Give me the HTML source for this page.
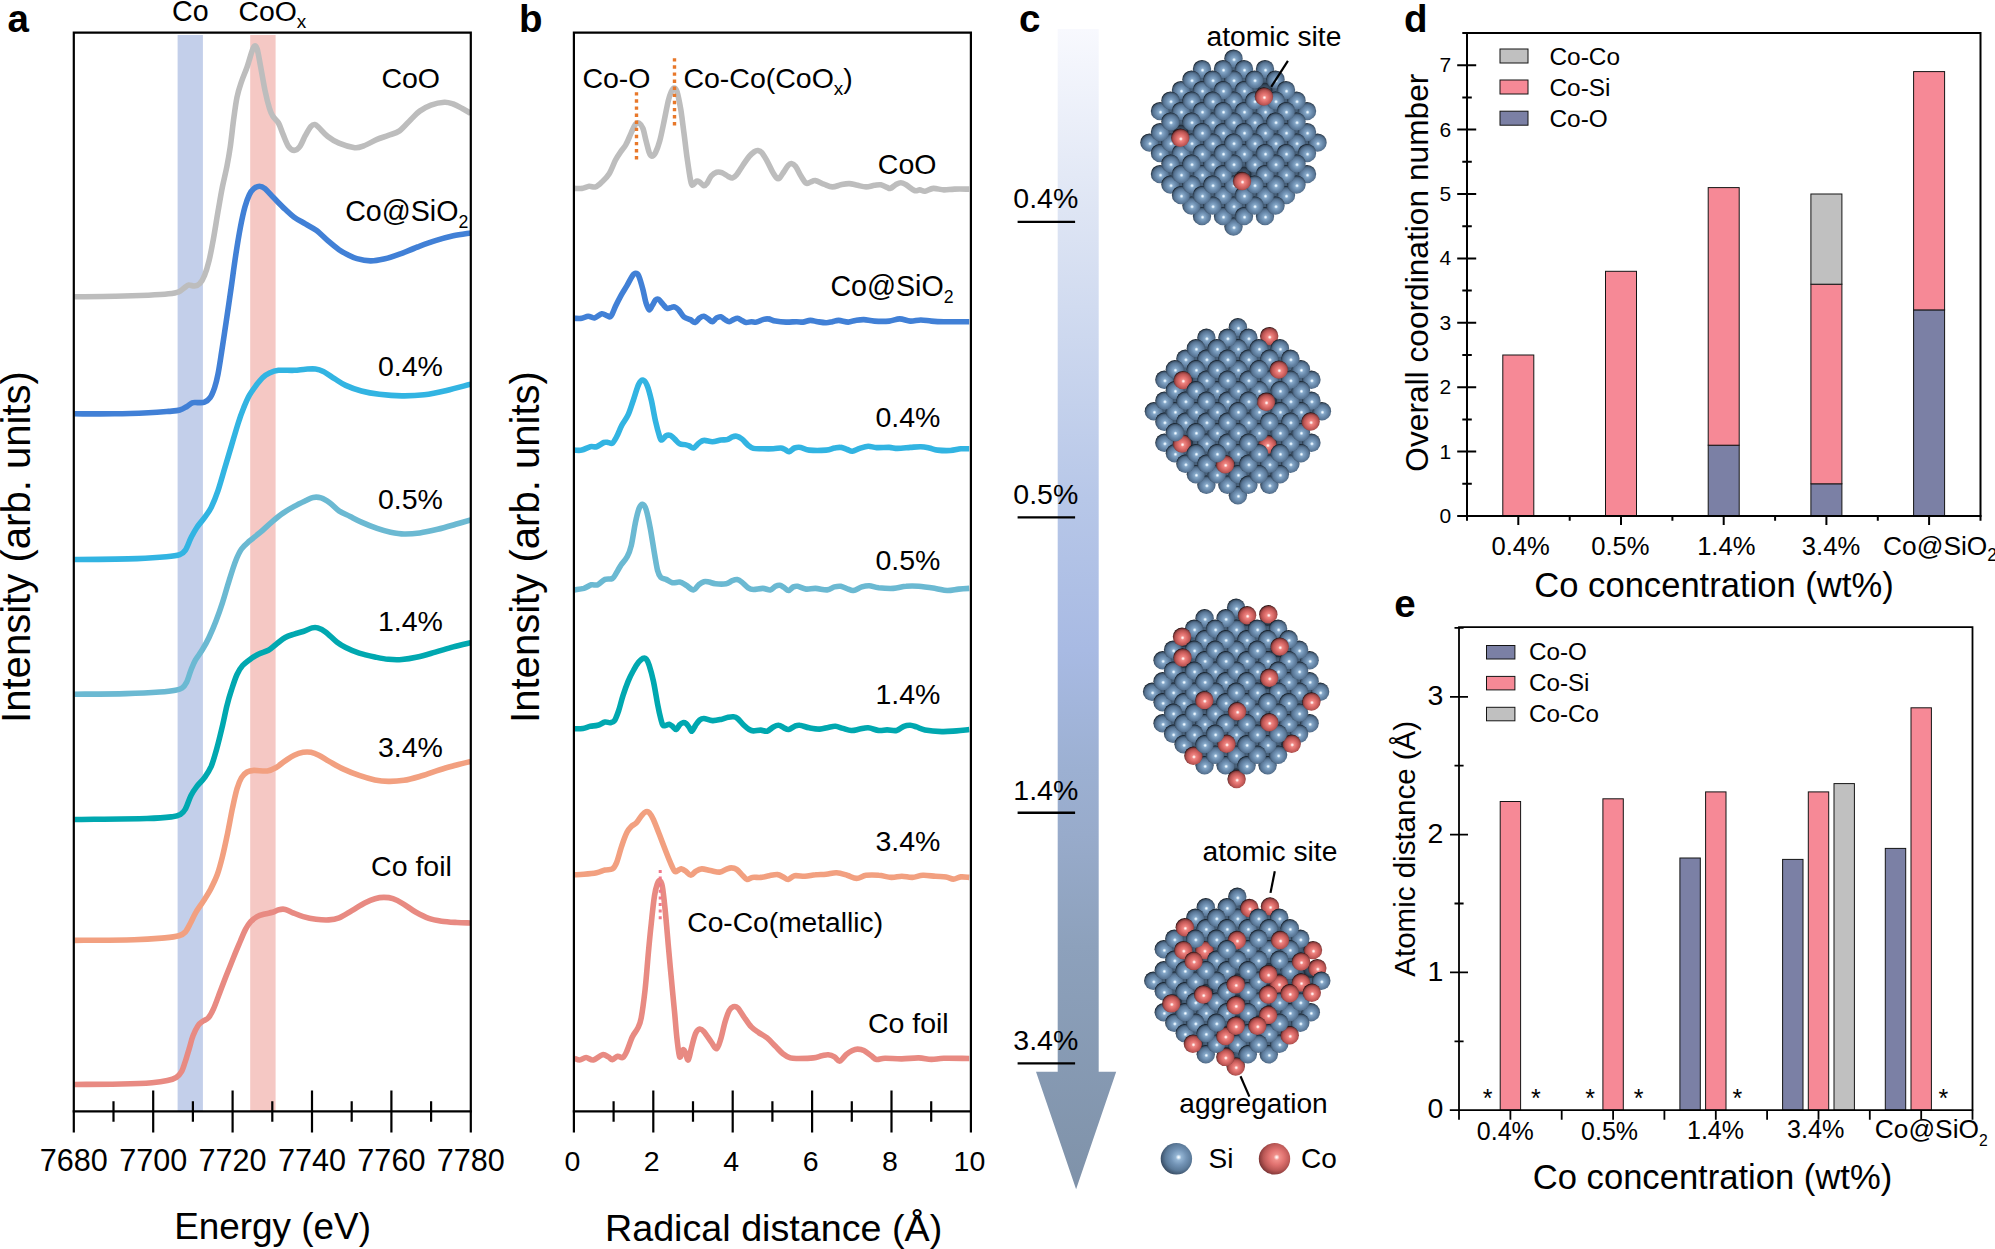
<!DOCTYPE html>
<html lang="en"><head><meta charset="utf-8"><title>Figure</title>
<style>html,body{margin:0;padding:0;background:#fff}svg{display:block}</style></head>
<body>
<svg width="1995" height="1249" viewBox="0 0 1995 1249" font-family="'Liberation Sans', Arial, Helvetica, sans-serif" fill="#000">
<rect width="1995" height="1249" fill="#fff"/>
<defs>
<radialGradient id="gs" cx="53%" cy="56%" r="55%" fx="53%" fy="56%">
<stop offset="0" stop-color="#ffffff"/><stop offset="0.08" stop-color="#d9ebf9"/><stop offset="0.2" stop-color="#86a8c8"/><stop offset="0.45" stop-color="#6d8eb0"/><stop offset="0.72" stop-color="#587594"/><stop offset="0.88" stop-color="#3f566e"/><stop offset="0.97" stop-color="#1c2835"/><stop offset="1" stop-color="#101820"/>
</radialGradient>
<radialGradient id="gr" cx="53%" cy="56%" r="55%" fx="53%" fy="56%">
<stop offset="0" stop-color="#ffffff"/><stop offset="0.08" stop-color="#fde0dd"/><stop offset="0.2" stop-color="#ee8783"/><stop offset="0.45" stop-color="#dc6b69"/><stop offset="0.72" stop-color="#b95452"/><stop offset="0.88" stop-color="#863a3a"/><stop offset="0.97" stop-color="#3a1818"/><stop offset="1" stop-color="#200c0c"/>
</radialGradient>
<radialGradient id="gd" cx="50%" cy="50%" r="55%">
<stop offset="0" stop-color="#4a637d"/><stop offset="0.6" stop-color="#34475b"/><stop offset="1" stop-color="#141c26"/>
</radialGradient>
<radialGradient id="gsL" cx="57%" cy="45%" r="62%" fx="57%" fy="45%">
<stop offset="0" stop-color="#ffffff"/><stop offset="0.05" stop-color="#e3f1fb"/><stop offset="0.15" stop-color="#93b4d3"/><stop offset="0.4" stop-color="#7394b6"/><stop offset="0.68" stop-color="#5b7a99"/><stop offset="0.88" stop-color="#40566f"/><stop offset="1" stop-color="#293a4d"/>
</radialGradient>
<radialGradient id="grL" cx="57%" cy="45%" r="62%" fx="57%" fy="45%">
<stop offset="0" stop-color="#ffffff"/><stop offset="0.05" stop-color="#fde4e1"/><stop offset="0.15" stop-color="#f08f8a"/><stop offset="0.4" stop-color="#e07270"/><stop offset="0.68" stop-color="#bb5856"/><stop offset="0.88" stop-color="#8a3c3c"/><stop offset="1" stop-color="#5c2426"/>
</radialGradient>
<linearGradient id="ga" x1="0" y1="29" x2="0" y2="1190" gradientUnits="userSpaceOnUse">
<stop offset="0" stop-color="#f8f9fe"/><stop offset="0.156" stop-color="#dee5f4"/><stop offset="0.405" stop-color="#b7c7e8"/><stop offset="0.535" stop-color="#a8bae3"/><stop offset="0.638" stop-color="#9cb0d2"/><stop offset="0.694" stop-color="#98abcb"/><stop offset="0.79" stop-color="#8da1bc"/><stop offset="1" stop-color="#7f92a9"/>
</linearGradient>
</defs>
<g id="panel-a">
<rect x="177.6" y="35" width="25.3" height="1076.4" fill="#c3cfea"/>
<rect x="250.2" y="35" width="25.4" height="1076.4" fill="#f5c8c4"/>
<clipPath id="ca"><rect x="73.8" y="32.7" width="397.0" height="1078.7"/></clipPath>
<g fill="none" stroke-width="5.6" stroke-linejoin="round" stroke-linecap="butt" clip-path="url(#ca)">
<path d="M74.5,296.8C81.2,296.7 102.5,296.6 114.8,296.3C127.1,296.0 139.5,295.6 148.5,295.2C157.5,294.8 163.6,294.4 168.6,293.8C173.6,293.2 176.1,292.8 178.7,291.8C181.3,290.8 182.6,288.9 184.3,287.8C186.0,286.7 187.1,285.4 188.8,285.1C190.5,284.8 192.5,286.3 194.4,286.0C196.3,285.7 198.3,285.1 200.0,283.3C201.7,281.6 203.0,279.2 204.5,275.5C206.0,271.8 207.5,267.1 209.0,260.9C210.5,254.7 212.0,246.7 213.5,238.5C215.0,230.3 216.5,220.2 218.0,211.6C219.5,203.0 220.9,194.4 222.4,186.9C223.9,179.4 225.6,173.2 226.9,166.5C228.2,159.8 229.2,154.4 230.3,146.6C231.4,138.8 232.5,127.9 233.6,119.7C234.7,111.5 235.7,103.6 237.0,97.2C238.3,90.8 239.8,86.6 241.5,81.6C243.2,76.6 245.4,71.9 247.1,67.0C248.8,62.1 250.4,55.9 251.6,52.4C252.8,48.9 253.4,46.6 254.3,46.1C255.2,45.6 256.2,45.8 257.2,49.1C258.2,52.4 259.2,59.0 260.5,65.9C261.8,72.8 263.5,83.4 265.0,90.5C266.5,97.6 268.2,104.2 269.5,108.5C270.8,112.8 271.4,113.9 272.9,116.3C274.4,118.7 276.8,120.0 278.5,123.0C280.2,126.0 281.3,130.3 283.0,134.2C284.7,138.1 286.7,143.9 288.6,146.6C290.5,149.3 292.3,150.4 294.2,150.4C296.1,150.4 297.9,149.1 299.8,146.6C301.7,144.1 303.5,138.8 305.4,135.4C307.3,132.0 309.4,128.2 311.0,126.4C312.6,124.6 313.5,124.4 314.8,124.6C316.1,124.8 316.6,125.5 318.8,127.5C321.0,129.5 324.4,133.9 327.8,136.5C331.2,139.1 334.5,141.3 339.0,143.2C343.5,145.1 350.6,147.2 354.7,147.7C358.8,148.1 360.0,147.3 363.7,145.9C367.4,144.5 373.0,141.2 377.1,139.4C381.2,137.7 384.6,136.8 388.3,135.4C392.0,134.0 395.8,133.5 399.5,130.9C403.2,128.3 407.3,123.0 410.7,119.7C414.1,116.4 416.3,113.5 419.7,111.1C423.1,108.7 426.8,106.6 430.9,105.1C435.0,103.6 440.7,102.4 444.4,102.2C448.1,102.0 450.3,103.0 453.3,104.0C456.3,105.0 459.4,106.9 462.3,108.5C465.2,110.1 469.4,112.6 470.8,113.4" stroke="#bdbdbd"/>
<path d="M74.5,413.8C81.2,413.8 102.5,414.0 114.8,413.8C127.1,413.6 139.5,413.1 148.5,412.7C157.5,412.3 163.4,411.8 168.6,411.4C173.8,410.9 176.8,410.8 179.8,410.0C182.8,409.2 184.5,407.9 186.6,406.7C188.7,405.5 190.3,403.5 192.2,402.8C194.1,402.1 195.8,402.7 197.8,402.6C199.9,402.5 202.4,403.0 204.5,402.2C206.6,401.4 208.4,400.1 210.1,397.7C211.8,395.3 213.3,391.5 214.6,387.6C215.9,383.7 216.9,379.7 218.0,374.1C219.1,368.5 220.2,361.1 221.3,354.0C222.4,346.9 223.6,339.0 224.7,331.6C225.8,324.2 226.9,317.1 228.0,309.5C229.1,301.9 230.1,295.2 231.4,286.0C232.7,276.8 234.4,264.0 235.9,254.2C237.4,244.4 238.9,235.2 240.4,227.3C241.9,219.5 243.4,212.5 244.9,207.1C246.4,201.7 247.8,197.9 249.3,194.8C250.8,191.7 252.1,190.1 253.8,188.7C255.5,187.3 257.5,186.2 259.4,186.2C261.3,186.2 262.6,186.7 265.0,188.7C267.4,190.7 270.6,194.7 274.0,198.1C277.4,201.5 281.8,206.1 285.2,209.3C288.6,212.5 290.8,214.8 294.2,217.2C297.6,219.6 301.7,221.7 305.4,223.9C309.1,226.1 312.9,227.8 316.6,230.6C320.3,233.4 324.1,237.5 327.8,240.7C331.5,243.9 335.8,247.4 339.0,249.7C342.2,251.9 343.8,252.7 346.8,254.2C349.8,255.7 353.0,257.5 356.9,258.6C360.8,259.7 365.9,260.8 370.4,260.9C374.9,261.0 378.9,260.2 383.8,259.1C388.7,258.0 393.9,256.2 399.5,254.2C405.1,252.2 411.5,249.2 417.5,247.0C423.5,244.8 429.4,242.6 435.4,240.7C441.4,238.8 447.4,237.1 453.3,235.8C459.2,234.5 467.9,233.4 470.8,232.9" stroke="#4180d6"/>
<path d="M74.5,559.5C85.0,559.4 121.9,559.1 137.2,558.6C152.5,558.1 159.3,557.5 166.4,556.8C173.5,556.1 176.6,555.7 179.8,554.6C183.0,553.5 183.5,552.9 185.4,550.1C187.3,547.3 189.1,541.5 191.0,537.8C192.9,534.1 194.4,531.1 196.7,527.7C198.9,524.3 202.1,521.0 204.5,517.6C206.9,514.2 208.9,512.0 211.2,507.5C213.4,503.0 215.8,497.2 218.0,490.7C220.2,484.2 222.5,475.8 224.7,468.3C226.9,460.8 229.2,453.4 231.4,445.9C233.6,438.4 236.1,429.9 238.1,423.5C240.1,417.1 241.8,412.5 243.7,407.8C245.6,403.1 247.2,399.1 249.3,395.4C251.4,391.7 253.9,388.4 256.1,385.4C258.4,382.4 260.6,379.6 262.8,377.5C265.0,375.4 266.9,374.2 269.5,373.0C272.1,371.8 274.4,370.8 278.5,370.3C282.6,369.9 289.7,370.5 294.2,370.3C298.7,370.1 301.8,369.4 305.4,369.2C308.9,369.0 312.5,368.6 315.5,369.0C318.5,369.4 320.1,369.9 323.3,371.5C326.5,373.1 330.8,376.3 334.5,378.6C338.2,380.9 341.2,383.3 345.7,385.4C350.2,387.5 355.8,389.5 361.4,391.0C367.0,392.5 372.6,393.5 379.3,394.3C386.0,395.1 394.3,395.8 401.8,395.9C409.3,396.0 416.7,395.7 424.2,394.8C431.7,393.9 438.8,392.3 446.6,390.5C454.4,388.7 466.8,385.2 470.8,384.2" stroke="#32b4e2"/>
<path d="M74.5,694.2C83.1,694.1 111.8,694.0 126.0,693.6C140.2,693.2 151.5,692.6 159.7,692.0C167.9,691.4 171.7,690.9 175.4,690.2C179.1,689.5 180.2,689.3 182.1,688.0C184.0,686.7 185.1,685.3 186.6,682.3C188.1,679.3 189.5,673.7 191.0,670.0C192.5,666.3 193.6,663.3 195.5,659.9C197.4,656.5 200.1,653.5 202.3,649.8C204.6,646.1 206.8,642.2 209.0,637.5C211.2,632.8 213.5,627.6 215.7,621.8C217.9,616.0 220.2,609.7 222.4,602.8C224.7,595.9 226.9,587.4 229.2,580.3C231.4,573.2 233.8,565.4 235.9,560.2C238.0,555.0 239.3,552.2 241.5,549.0C243.7,545.8 246.1,544.0 249.3,541.2C252.5,538.4 256.8,535.4 260.5,532.2C264.2,529.0 267.9,525.3 271.7,522.1C275.4,518.9 279.2,515.7 283.0,513.1C286.8,510.5 290.5,508.4 294.2,506.4C297.9,504.3 302.2,502.3 305.4,500.8C308.6,499.3 310.6,497.9 313.2,497.4C315.8,496.9 318.3,497.0 321.1,497.9C323.9,498.8 327.0,500.8 330.0,503.0C333.0,505.2 335.6,508.6 339.0,510.9C342.4,513.1 346.5,514.6 350.2,516.5C353.9,518.4 356.9,520.1 361.4,522.1C365.9,524.1 372.2,526.7 377.1,528.4C382.0,530.1 386.1,531.3 390.6,532.2C395.1,533.1 399.1,533.9 404.0,534.0C408.9,534.1 414.1,533.7 419.7,532.9C425.3,532.1 431.6,530.7 437.6,529.3C443.6,527.9 450.1,525.9 455.6,524.3C461.1,522.7 468.3,520.6 470.8,519.9" stroke="#6bb9d2"/>
<path d="M74.5,819.5C86.6,819.3 130.6,819.0 146.9,818.5C163.2,818.0 166.9,817.4 172.5,816.7C178.1,816.0 178.3,815.6 180.5,814.3C182.7,813.0 183.7,812.1 185.4,809.0C187.2,805.9 189.1,799.2 191.0,795.5C192.9,791.8 194.4,789.6 196.7,786.6C198.9,783.6 202.1,781.0 204.5,777.6C206.9,774.2 209.1,771.2 211.2,766.4C213.2,761.5 214.9,755.2 216.8,748.5C218.7,741.8 220.7,733.2 222.4,726.1C224.1,719.0 225.4,711.9 226.9,705.9C228.4,699.9 229.7,695.4 231.4,690.2C233.1,685.0 235.1,678.6 237.0,674.5C238.9,670.4 240.5,667.9 242.6,665.5C244.7,663.1 246.7,661.8 249.3,659.9C251.9,658.0 255.1,655.9 258.3,654.3C261.5,652.7 265.4,652.0 268.4,650.3C271.4,648.6 273.4,646.3 276.2,644.2C279.0,642.1 282.2,639.2 285.2,637.5C288.2,635.8 291.2,635.1 294.2,634.1C297.2,633.1 300.1,632.5 303.1,631.5C306.1,630.5 309.7,628.5 312.1,627.9C314.5,627.3 315.5,627.2 317.7,627.9C319.9,628.6 322.3,629.5 325.5,631.9C328.7,634.2 333.4,639.4 336.8,642.0C340.2,644.6 342.0,645.7 345.7,647.6C349.4,649.5 354.3,651.6 359.2,653.2C364.1,654.8 370.0,656.0 374.9,657.0C379.8,658.0 383.8,658.9 388.3,659.3C392.8,659.7 396.9,659.9 401.8,659.5C406.7,659.1 411.9,658.2 417.5,657.0C423.1,655.8 429.4,653.8 435.4,652.1C441.4,650.4 447.4,648.5 453.3,646.9C459.2,645.3 467.9,643.4 470.8,642.7" stroke="#00a8b0"/>
<path d="M74.5,940.4C84.4,940.3 119.0,940.1 134.1,939.7C149.2,939.3 157.3,938.5 164.8,937.9C172.3,937.2 175.5,936.8 178.9,935.8C182.3,934.8 183.4,934.1 185.3,932.0C187.2,929.9 188.8,926.2 190.5,923.0C192.2,919.8 193.5,916.4 195.6,912.8C197.7,909.2 200.7,905.3 203.3,901.2C205.9,897.1 208.7,892.9 211.0,888.4C213.3,883.9 215.5,879.6 217.4,874.3C219.3,869.0 220.8,863.2 222.5,856.4C224.2,849.6 225.9,841.4 227.6,833.3C229.3,825.2 230.9,815.4 232.5,808.0C234.1,800.6 235.5,793.9 237.0,788.8C238.5,783.7 239.8,780.4 241.5,777.6C243.2,774.8 245.0,773.2 247.1,772.0C249.2,770.8 250.4,770.6 253.8,770.4C257.2,770.2 263.6,771.4 267.3,770.9C271.0,770.4 273.2,769.2 276.2,767.5C279.2,765.8 282.2,762.8 285.2,760.8C288.2,758.8 291.2,756.6 294.2,755.2C297.2,753.8 300.3,752.8 303.1,752.3C305.9,751.8 308.4,751.8 311.0,752.3C313.6,752.8 315.6,753.6 318.8,755.2C322.0,756.8 325.9,759.6 330.0,761.9C334.1,764.2 338.6,766.9 343.5,769.1C348.4,771.4 354.0,773.6 359.2,775.4C364.4,777.2 370.0,778.9 374.9,779.9C379.8,780.9 383.4,781.3 388.3,781.4C393.2,781.5 398.4,781.2 404.0,780.3C409.6,779.4 415.9,777.5 421.9,775.8C427.9,774.0 434.3,771.5 439.9,769.8C445.5,768.0 450.5,766.7 455.6,765.3C460.8,763.9 468.3,762.1 470.8,761.5" stroke="#f2a080"/>
<path d="M74.5,1084.5C82.3,1084.4 108.4,1084.3 121.3,1084.0C134.2,1083.7 144.3,1083.3 152.0,1082.7C159.7,1082.1 163.3,1081.5 167.4,1080.6C171.5,1079.7 174.1,1078.8 176.4,1077.3C178.8,1075.8 180.0,1074.3 181.5,1071.7C183.0,1069.1 184.0,1065.2 185.3,1061.4C186.6,1057.6 187.9,1052.9 189.2,1048.6C190.5,1044.3 191.5,1039.6 193.0,1035.8C194.5,1032.0 196.4,1028.0 198.1,1025.5C199.8,1023.0 201.6,1022.2 203.3,1020.9C205.0,1019.6 206.7,1019.8 208.4,1017.8C210.1,1015.8 211.6,1013.2 213.5,1008.9C215.4,1004.6 217.8,997.8 219.9,992.2C222.0,986.7 224.0,981.6 226.3,975.6C228.7,969.6 231.7,962.1 234.0,956.3C236.3,950.5 238.5,945.5 240.4,941.0C242.3,936.5 243.8,932.6 245.5,929.4C247.2,926.2 248.8,923.8 250.7,921.7C252.6,919.6 254.8,917.9 257.1,916.6C259.5,915.3 262.2,914.7 264.8,914.0C267.4,913.3 270.1,913.0 272.5,912.3C274.9,911.6 276.8,910.2 278.9,909.7C281.0,909.2 282.9,908.9 285.3,909.4C287.7,909.9 290.0,911.6 293.0,912.8C296.0,914.0 299.4,915.5 303.2,916.6C307.0,917.7 311.7,918.7 316.0,919.2C320.3,919.8 324.9,920.1 328.8,919.9C332.7,919.7 335.2,919.4 339.1,917.9C343.0,916.4 347.6,913.2 351.9,910.7C356.2,908.2 360.8,905.0 364.7,903.0C368.6,901.0 371.8,899.6 375.0,898.7C378.2,897.8 380.9,897.4 383.9,897.4C386.9,897.4 389.7,897.6 392.9,898.7C396.1,899.8 399.3,901.5 403.2,903.8C407.1,906.1 411.7,909.9 416.0,912.3C420.3,914.7 424.5,916.9 428.8,918.4C433.1,919.9 436.9,920.5 441.6,921.2C446.3,921.9 452.2,922.2 457.0,922.5C461.8,922.8 468.3,922.9 470.6,923.0" stroke="#e88a82"/>
</g>
<g fill="none" stroke="#000" stroke-width="2.2">
<path d="M73.8,1132.6 V32.7 H470.8 V1132.6" />
<path d="M72.7,1111.4 H471.9"/>
<path d="M153.2,1090.4V1132.6M232.6,1090.4V1132.6M312.0,1090.4V1132.6M391.4,1090.4V1132.6M113.5,1101.3V1121.7M192.9,1101.3V1121.7M272.3,1101.3V1121.7M351.7,1101.3V1121.7M431.1,1101.3V1121.7"/>
</g>
<text x="73.8" y="1171.0" font-size="30.6" text-anchor="middle">7680</text>
<text x="153.2" y="1171.0" font-size="30.6" text-anchor="middle">7700</text>
<text x="232.6" y="1171.0" font-size="30.6" text-anchor="middle">7720</text>
<text x="312.0" y="1171.0" font-size="30.6" text-anchor="middle">7740</text>
<text x="391.4" y="1171.0" font-size="30.6" text-anchor="middle">7760</text>
<text x="470.8" y="1171.0" font-size="30.6" text-anchor="middle">7780</text>
<text x="272.6" y="1239.3" font-size="36.9" text-anchor="middle">Energy (eV)</text>
<text transform="translate(30.4,547) rotate(-90)" font-size="40.1" text-anchor="middle">Intensity (arb. units)</text>
<text x="7.5" y="32.4" font-size="38.5" text-anchor="start" font-weight="bold">a</text>
<text x="172.0" y="21.2" font-size="28.6" text-anchor="start">Co</text>
<text x="238.4" y="21.2" font-size="28.4">CoO<tspan font-size="19" dy="6.8">x</tspan></text>
<text x="381.4" y="88.3" font-size="28.5" text-anchor="start">CoO</text>
<text x="345.2" y="220.5" font-size="28.6">Co@SiO<tspan font-size="17.7" dy="7">2</tspan></text>
<text x="377.9" y="375.9" font-size="28.5" text-anchor="start">0.4%</text>
<text x="377.9" y="508.6" font-size="28.5" text-anchor="start">0.5%</text>
<text x="377.9" y="630.8" font-size="28.5" text-anchor="start">1.4%</text>
<text x="377.9" y="757.4" font-size="28.5" text-anchor="start">3.4%</text>
<text x="371.1" y="875.6" font-size="28.5" text-anchor="start">Co foil</text>
</g>
<g id="panel-b">
<clipPath id="cb"><rect x="573.9" y="32.7" width="397.0" height="1078.7"/></clipPath>
<g fill="none" stroke-width="5.6" stroke-linejoin="round" stroke-linecap="butt" clip-path="url(#cb)">
<path d="M574.5,188.4C575.7,188.4 579.3,188.8 581.8,188.4C584.2,188.1 586.9,186.6 589.2,186.3C591.5,186.1 593.4,187.6 595.5,186.9C597.6,186.2 599.5,184.3 601.8,182.1C604.1,179.9 606.9,177.4 609.2,173.7C611.5,170.0 613.6,163.7 615.5,160.0C617.4,156.3 619.0,154.2 620.8,151.6C622.6,149.0 624.4,147.4 626.1,144.2C627.9,141.0 629.7,135.9 631.3,132.6C632.9,129.3 634.2,125.8 635.5,124.2C636.8,122.6 637.9,122.5 639.1,123.2C640.3,123.9 641.7,125.4 642.9,128.4C644.1,131.4 645.0,137.1 646.1,141.1C647.2,145.1 648.3,150.1 649.2,152.6C650.1,155.1 650.7,156.2 651.7,156.2C652.8,156.2 654.2,155.1 655.5,152.6C656.8,150.1 658.3,146.2 659.7,141.1C661.1,136.0 662.5,128.8 663.9,122.1C665.3,115.4 667.0,106.2 668.2,101.1C669.4,96.0 670.3,93.8 671.3,91.6C672.3,89.4 673.1,88.0 674.1,88.0C675.1,88.0 675.9,88.0 677.0,91.6C678.1,95.2 679.6,102.7 680.8,109.5C681.9,116.3 682.8,124.5 683.9,132.6C685.0,140.7 686.0,150.2 687.1,157.9C688.2,165.6 689.4,174.3 690.3,178.9C691.2,183.5 691.3,184.9 692.4,185.3C693.5,185.7 695.4,181.6 696.6,181.1C697.8,180.6 698.5,181.3 699.7,182.1C700.9,182.9 702.7,185.5 703.9,185.7C705.1,185.9 705.9,184.8 707.1,183.2C708.3,181.5 709.7,177.6 711.3,175.8C712.9,174.0 714.9,172.7 716.6,172.2C718.4,171.7 719.9,171.9 721.8,172.6C723.7,173.3 726.4,175.5 728.2,176.4C730.0,177.3 731.0,178.2 732.4,177.9C733.8,177.6 734.9,176.8 736.6,174.7C738.4,172.6 740.8,168.4 742.9,165.3C745.0,162.2 747.3,158.7 749.2,156.4C751.1,154.1 753.1,152.6 754.5,151.6C755.9,150.6 756.4,150.3 757.6,150.5C758.8,150.7 760.2,150.8 761.8,152.6C763.4,154.4 765.3,157.9 767.1,161.1C768.9,164.3 770.8,168.8 772.4,171.6C774.0,174.4 775.4,176.8 776.6,177.9C777.8,179.0 778.5,179.0 779.7,177.9C780.9,176.8 782.5,173.7 783.9,171.6C785.3,169.5 787.0,166.6 788.2,165.3C789.4,164.0 790.1,163.4 791.3,163.6C792.5,163.8 793.9,164.3 795.5,166.3C797.1,168.3 799.0,173.0 800.8,175.8C802.6,178.6 804.5,182.1 806.1,183.2C807.7,184.2 808.7,182.5 810.3,182.1C811.9,181.7 813.2,180.2 815.5,180.6C817.8,180.9 821.1,183.1 823.9,184.2C826.7,185.2 829.6,186.8 832.4,186.9C835.2,187.0 838.0,185.4 840.8,184.8C843.6,184.2 846.4,183.5 849.2,183.6C852.0,183.7 854.8,184.8 857.6,185.3C860.4,185.9 863.3,186.9 866.1,186.9C868.9,186.9 872.0,185.7 874.5,185.3C877.0,185.0 878.7,184.5 880.8,184.8C882.9,185.2 885.5,186.8 887.1,187.4C888.7,188.0 888.9,188.8 890.3,188.4C891.7,188.0 893.8,185.8 895.5,184.8C897.2,183.9 899.0,182.7 900.8,182.7C902.6,182.7 903.8,183.5 906.1,184.8C908.4,186.1 912.2,189.7 914.5,190.5C916.8,191.3 918.0,189.8 919.7,189.9C921.5,190.0 922.7,191.4 925.0,191.2C927.3,190.9 930.2,188.6 933.4,188.4C936.5,188.2 940.4,189.8 943.9,189.9C947.4,190.0 950.3,189.2 954.5,189.1C958.7,189.0 966.8,189.1 969.2,189.1" stroke="#bdbdbd"/>
<path d="M574.5,318.3C575.7,318.3 579.5,318.7 581.8,318.3C584.1,317.9 586.1,316.3 588.2,316.2C590.3,316.1 592.2,318.3 594.5,317.9C596.8,317.5 599.7,314.0 601.8,313.7C603.9,313.4 605.6,315.4 607.1,315.8C608.6,316.2 609.5,317.8 610.9,316.2C612.3,314.6 613.9,309.7 615.5,306.3C617.1,302.9 618.9,299.3 620.8,295.8C622.7,292.3 625.2,288.6 627.1,285.3C629.0,282.0 631.0,277.8 632.4,275.8C633.8,273.8 634.5,273.3 635.5,273.3C636.5,273.3 637.5,273.1 638.7,275.8C639.9,278.5 641.7,284.9 642.9,289.5C644.1,294.1 645.0,299.8 646.1,303.2C647.2,306.6 648.2,309.5 649.2,309.9C650.2,310.2 651.4,306.9 652.4,305.3C653.4,303.7 654.5,301.0 655.5,300.0C656.5,299.0 657.5,298.7 658.7,299.4C659.9,300.1 661.5,302.7 662.9,304.2C664.3,305.7 665.7,307.9 667.1,308.4C668.5,308.9 670.1,307.6 671.3,307.4C672.5,307.1 673.3,306.5 674.5,306.9C675.7,307.3 677.1,308.2 678.7,309.9C680.3,311.5 682.0,315.2 683.9,316.8C685.8,318.4 688.4,318.7 690.3,319.6C692.2,320.6 693.5,322.8 695.1,322.5C696.7,322.2 698.2,318.9 699.7,317.9C701.2,316.8 702.5,316.0 703.9,316.2C705.3,316.4 706.8,318.0 708.2,318.9C709.6,319.8 711.0,321.9 712.4,321.7C713.8,321.5 715.2,318.7 716.6,317.9C718.0,317.1 719.4,316.5 720.8,316.8C722.2,317.1 723.6,318.8 725.0,319.6C726.4,320.4 727.8,321.7 729.2,321.7C730.6,321.7 732.0,320.2 733.4,319.6C734.8,319.0 736.2,318.2 737.6,318.3C739.0,318.4 740.4,319.7 741.8,320.4C743.2,321.1 744.5,322.3 746.1,322.5C747.7,322.7 749.5,321.8 751.3,321.7C753.0,321.6 754.7,322.5 756.6,322.1C758.5,321.8 761.0,320.1 762.9,319.6C764.8,319.1 766.1,318.6 768.2,318.9C770.3,319.1 772.5,320.6 775.5,321.1C778.5,321.6 782.6,322.0 786.1,322.1C789.6,322.2 793.8,321.7 796.6,321.7C799.4,321.7 800.6,322.3 802.9,322.1C805.2,321.9 807.8,320.5 810.3,320.4C812.8,320.3 815.0,321.3 817.6,321.7C820.2,322.1 823.6,322.7 826.1,322.7C828.6,322.7 830.3,322.1 832.4,321.7C834.5,321.3 836.1,320.3 838.7,320.4C841.3,320.5 845.4,322.1 848.2,322.1C851.0,322.1 852.9,320.8 855.5,320.4C858.1,320.0 860.7,319.5 863.9,319.6C867.1,319.7 870.3,320.9 874.5,321.1C878.7,321.4 885.0,321.5 889.2,321.1C893.4,320.7 896.2,318.9 899.7,318.9C903.2,318.9 906.8,320.9 910.3,321.1C913.8,321.3 917.3,320.0 920.8,320.0C924.3,320.0 927.4,320.8 931.3,321.1C935.1,321.4 937.6,321.6 943.9,321.7C950.2,321.8 965.0,321.7 969.2,321.7" stroke="#4180d6"/>
<path d="M574.5,450.1C575.7,450.1 579.2,450.7 581.8,450.1C584.4,449.5 587.8,447.3 590.3,446.7C592.8,446.1 594.3,447.4 596.6,446.7C598.9,446.0 602.0,443.2 603.9,442.5C605.8,441.8 606.8,442.4 608.2,442.5C609.6,442.6 611.0,444.1 612.4,443.2C613.8,442.2 615.0,439.8 616.6,436.8C618.2,433.8 619.9,429.0 621.8,425.3C623.7,421.6 626.3,418.9 628.2,414.7C630.1,410.5 631.6,405.1 633.4,400.0C635.1,394.9 637.1,387.5 638.7,384.2C640.3,380.9 641.5,379.8 642.9,380.0C644.3,380.2 645.7,382.0 647.1,385.3C648.5,388.6 649.9,394.0 651.3,400.0C652.7,406.0 654.1,415.0 655.5,421.1C656.9,427.2 658.7,433.7 659.7,436.8C660.8,439.9 660.7,440.2 661.8,440.0C662.9,439.8 664.7,436.6 666.1,435.8C667.5,435.0 668.9,434.9 670.3,435.4C671.7,435.9 672.9,437.5 674.5,438.9C676.1,440.3 678.0,442.9 679.7,443.8C681.5,444.8 683.4,444.2 685.0,444.6C686.6,445.0 687.8,445.3 689.2,445.9C690.6,446.5 691.8,448.4 693.4,448.0C695.0,447.6 697.0,444.5 698.7,443.2C700.5,441.9 701.6,440.6 703.9,440.4C706.2,440.1 709.6,441.8 712.4,441.7C715.2,441.6 718.3,440.4 720.8,440.0C723.2,439.6 725.2,440.1 727.1,439.6C729.0,439.1 730.8,437.4 732.4,436.8C734.0,436.2 735.0,435.9 736.6,436.2C738.2,436.5 739.9,437.4 741.8,438.9C743.7,440.4 746.3,443.7 748.2,445.3C750.1,446.9 751.0,447.8 753.4,448.4C755.8,449.0 759.6,448.7 762.9,448.8C766.2,448.9 770.4,448.9 773.4,448.8C776.4,448.7 778.9,447.9 780.8,448.0C782.7,448.1 783.6,448.9 785.0,449.5C786.4,450.1 787.6,451.9 789.2,451.6C790.8,451.4 792.6,448.7 794.5,448.0C796.4,447.3 798.3,447.0 800.8,447.4C803.2,447.8 805.0,449.7 809.2,450.1C813.4,450.6 821.9,450.5 826.1,450.1C830.3,449.8 832.0,448.4 834.5,448.0C837.0,447.6 838.7,447.1 840.8,447.4C842.9,447.6 845.2,448.9 847.1,449.5C849.0,450.1 850.3,451.4 852.4,451.2C854.5,451.0 857.1,449.2 859.7,448.4C862.3,447.6 865.4,446.4 868.2,446.3C871.0,446.2 873.1,447.4 876.6,447.6C880.1,447.8 885.7,447.3 889.2,447.4C892.7,447.5 894.1,448.4 897.6,448.4C901.1,448.4 906.4,447.7 910.3,447.4C914.2,447.1 917.6,446.6 920.8,446.7C923.9,446.8 926.4,447.4 929.2,448.0C932.0,448.6 934.1,449.7 937.6,450.1C941.1,450.5 946.4,450.7 950.3,450.5C954.2,450.3 957.6,449.1 960.8,448.8C963.9,448.5 967.8,448.8 969.2,448.8" stroke="#32b4e2"/>
<path d="M574.5,589.9C576.1,589.6 581.1,589.2 583.9,588.4C586.7,587.5 589.0,585.4 591.3,584.8C593.6,584.2 595.3,585.7 597.6,584.8C599.9,583.9 602.5,580.4 605.0,579.4C607.5,578.4 610.5,579.6 612.4,578.5C614.3,577.4 615.2,574.8 616.6,572.6C618.0,570.4 619.0,567.9 620.8,565.3C622.5,562.7 625.4,560.1 627.1,556.8C628.9,553.5 629.9,551.1 631.3,545.3C632.7,539.5 634.2,528.2 635.5,522.1C636.8,516.0 637.9,511.4 639.1,508.4C640.3,505.4 641.3,504.0 642.5,504.2C643.7,504.4 644.8,505.5 646.1,509.5C647.4,513.5 648.9,521.0 650.3,528.4C651.7,535.8 653.3,546.7 654.5,553.7C655.7,560.7 656.6,566.6 657.6,570.5C658.6,574.4 659.4,575.8 660.8,577.3C662.2,578.8 664.2,578.5 666.1,579.4C668.0,580.3 670.1,582.2 672.4,582.7C674.7,583.2 677.4,581.7 679.7,582.1C682.0,582.5 683.8,584.0 686.1,585.3C688.4,586.6 691.3,590.0 693.4,589.9C695.5,589.8 697.0,586.2 698.7,584.8C700.5,583.4 702.1,582.2 703.9,581.7C705.6,581.2 707.3,581.8 709.2,582.1C711.1,582.5 712.7,583.5 715.5,583.8C718.3,584.1 723.3,584.3 726.1,583.8C728.9,583.3 730.5,581.3 732.4,580.6C734.2,579.9 735.6,579.4 737.2,579.6C738.8,579.9 740.0,580.7 741.8,582.1C743.6,583.5 746.3,586.6 748.2,587.8C750.1,589.0 751.0,589.4 753.4,589.5C755.8,589.6 760.1,588.3 762.9,588.4C765.7,588.5 768.2,590.2 770.3,589.9C772.4,589.5 773.9,587.1 775.5,586.3C777.1,585.5 778.3,585.1 779.7,585.3C781.1,585.5 782.4,586.5 783.9,587.4C785.4,588.3 787.0,590.6 788.6,590.5C790.2,590.4 791.9,587.6 793.4,586.9C794.9,586.2 795.5,585.9 797.6,586.3C799.7,586.7 803.1,588.8 806.1,589.1C809.1,589.5 812.0,588.3 815.5,588.4C819.0,588.5 823.9,590.1 827.1,589.9C830.3,589.6 832.2,587.5 834.5,586.9C836.8,586.3 838.5,585.9 840.8,586.3C843.1,586.7 846.1,588.4 848.2,589.1C850.3,589.8 851.1,590.9 853.4,590.5C855.7,590.1 859.2,587.7 861.8,586.9C864.4,586.1 866.4,585.6 869.2,585.7C872.0,585.9 874.7,587.3 878.7,587.8C882.7,588.2 888.8,588.6 893.4,588.4C898.0,588.1 901.9,586.6 906.1,586.3C910.3,585.9 913.8,585.9 918.7,586.3C923.6,586.6 930.8,587.7 935.5,588.4C940.2,589.1 943.2,590.4 947.1,590.5C951.0,590.6 955.0,589.5 958.7,589.1C962.4,588.8 967.5,588.5 969.2,588.4" stroke="#6bb9d2"/>
<path d="M574.5,728.8C575.9,728.7 580.3,728.8 582.9,728.4C585.5,728.0 587.8,726.8 590.3,726.3C592.8,725.8 595.1,726.0 597.6,725.3C600.1,724.6 602.9,722.5 605.0,722.1C607.1,721.7 608.7,723.0 610.3,722.7C611.9,722.5 613.1,722.6 614.5,720.6C615.9,718.6 617.3,714.6 618.7,710.5C620.1,706.4 621.3,700.7 622.9,695.8C624.5,690.9 626.5,685.3 628.2,681.1C630.0,676.9 631.6,673.7 633.4,670.5C635.1,667.3 637.1,664.1 638.7,662.1C640.3,660.1 641.7,658.8 642.9,658.3C644.1,657.8 645.0,657.7 646.1,658.9C647.2,660.1 648.0,661.6 649.2,665.3C650.4,669.0 652.0,674.6 653.4,681.1C654.8,687.6 656.4,697.9 657.6,704.2C658.8,710.5 659.9,715.4 660.8,718.9C661.7,722.4 662.0,724.2 662.9,725.3C663.8,726.4 665.0,725.5 666.1,725.3C667.2,725.1 668.2,724.0 669.2,724.2C670.2,724.4 671.2,725.4 672.4,726.3C673.6,727.2 675.0,729.8 676.2,729.5C677.4,729.2 678.6,725.9 679.7,724.8C680.8,723.7 681.8,722.9 682.9,722.7C684.0,722.5 685.0,722.8 686.1,723.6C687.2,724.4 688.2,726.1 689.2,727.4C690.2,728.7 691.0,731.6 692.0,731.2C693.0,730.9 694.2,727.2 695.5,725.3C696.8,723.4 698.3,721.1 699.7,720.0C701.1,718.9 701.8,718.4 703.9,718.5C706.0,718.6 709.6,720.5 712.4,720.6C715.2,720.8 718.2,720.0 720.8,719.4C723.4,718.8 726.1,717.7 728.2,717.3C730.3,716.9 731.8,716.6 733.4,716.8C735.0,717.0 735.9,717.1 737.6,718.5C739.4,719.9 742.0,723.5 743.9,725.3C745.8,727.1 747.6,728.6 749.2,729.5C750.8,730.4 751.5,730.8 753.4,730.9C755.3,731.0 758.5,730.0 760.8,730.1C763.1,730.2 765.0,731.7 767.1,731.2C769.2,730.7 771.5,727.9 773.4,726.9C775.3,725.9 777.0,725.1 778.7,725.3C780.5,725.4 782.2,727.1 783.9,727.8C785.5,728.5 786.8,729.8 788.6,729.5C790.4,729.2 792.6,727.0 794.5,726.3C796.4,725.6 797.2,725.0 799.7,725.3C802.2,725.5 805.9,727.2 809.2,727.8C812.5,728.4 816.5,729.2 819.7,729.1C822.9,729.0 825.6,727.9 828.2,727.4C830.8,726.9 833.0,726.1 835.5,726.3C838.0,726.5 840.3,727.7 842.9,728.4C845.5,729.1 848.5,730.4 851.3,730.5C854.1,730.6 856.9,729.6 859.7,729.1C862.5,728.6 865.0,727.6 868.2,727.8C871.4,728.0 875.6,730.1 878.7,730.5C881.9,730.9 884.1,729.9 887.1,729.9C890.1,729.9 893.8,731.1 896.6,730.5C899.4,729.9 901.6,727.2 903.9,726.3C906.2,725.4 908.2,725.2 910.3,725.3C912.4,725.4 914.1,726.1 916.6,726.9C919.1,727.7 920.8,729.1 925.0,729.9C929.2,730.7 936.5,731.4 941.8,731.6C947.1,731.8 952.0,731.2 956.6,730.9C961.2,730.5 967.1,729.7 969.2,729.5" stroke="#00a8b0"/>
<path d="M574.5,874.8C576.1,874.7 580.2,874.6 583.9,874.2C587.6,873.9 593.1,873.4 596.6,872.7C600.1,872.0 602.4,870.6 605.0,870.0C607.6,869.4 610.5,870.1 612.4,868.9C614.3,867.7 615.0,866.5 616.6,862.6C618.2,858.8 620.0,850.9 621.8,845.8C623.5,840.7 625.5,835.3 627.1,832.1C628.7,828.9 629.7,828.0 631.3,826.4C632.9,824.8 634.9,824.5 636.6,822.6C638.4,820.8 640.2,817.1 641.8,815.3C643.4,813.5 644.9,812.1 646.1,811.7C647.3,811.3 648.0,811.4 649.2,812.7C650.4,814.0 651.6,815.7 653.4,819.5C655.1,823.3 657.6,829.9 659.7,835.3C661.8,840.7 664.2,847.2 666.1,852.1C668.0,857.0 669.8,861.5 671.3,864.7C672.8,867.9 673.7,870.6 674.9,871.5C676.1,872.4 677.6,870.4 678.7,870.0C679.9,869.6 680.6,868.6 681.8,868.9C683.0,869.1 684.6,870.4 686.1,871.5C687.6,872.6 689.3,875.3 690.9,875.3C692.5,875.3 693.7,872.6 695.5,871.5C697.3,870.4 699.3,869.0 701.8,868.9C704.3,868.8 707.3,870.1 710.3,870.6C713.3,871.1 717.1,872.3 719.7,872.1C722.3,871.9 724.2,870.1 726.1,869.4C728.0,868.7 729.5,867.9 731.3,867.9C733.0,867.9 734.7,868.1 736.6,869.4C738.5,870.7 741.1,874.0 742.9,875.7C744.6,877.4 745.5,879.2 747.1,879.5C748.7,879.8 750.1,877.8 752.4,877.4C754.7,877.0 758.0,877.7 760.8,877.4C763.6,877.1 766.4,876.2 769.2,875.7C772.0,875.2 775.3,874.4 777.6,874.6C779.9,874.8 781.1,876.1 782.9,876.9C784.7,877.7 786.3,879.7 788.2,879.5C790.1,879.3 791.7,876.2 794.5,875.7C797.3,875.2 801.5,876.4 805.0,876.3C808.5,876.1 812.0,875.1 815.5,874.8C819.0,874.4 822.6,874.6 826.1,874.2C829.6,873.9 833.1,872.5 836.6,872.7C840.1,872.9 843.8,874.3 847.1,875.3C850.4,876.2 853.4,878.4 856.6,878.4C859.8,878.4 862.4,875.8 866.1,875.3C869.8,874.8 874.5,874.9 878.7,875.3C882.9,875.6 887.4,877.2 891.3,877.4C895.1,877.6 898.3,876.3 901.8,876.3C905.3,876.3 908.9,877.6 912.4,877.4C915.9,877.2 919.0,875.5 922.9,875.3C926.8,875.1 931.6,876.0 935.5,876.3C939.4,876.6 943.1,876.4 946.1,876.9C949.1,877.4 951.0,879.1 953.4,879.1C955.8,879.1 958.2,877.2 960.8,876.9C963.4,876.6 967.8,877.3 969.2,877.4" stroke="#f2a080"/>
<path d="M574.5,1058.3C575.4,1058.6 577.8,1060.1 579.7,1060.0C581.6,1059.9 583.8,1057.5 586.1,1057.5C588.4,1057.5 590.7,1060.5 593.4,1060.0C596.1,1059.5 600.0,1055.2 602.5,1054.7C605.0,1054.2 606.6,1056.0 608.2,1056.8C609.9,1057.6 610.8,1059.7 612.4,1059.6C614.0,1059.5 615.9,1056.5 617.6,1056.2C619.4,1055.9 621.3,1058.5 622.9,1057.5C624.5,1056.5 625.5,1054.0 627.1,1050.5C628.7,1047.0 630.6,1040.5 632.4,1036.8C634.1,1033.1 636.1,1031.6 637.6,1028.4C639.1,1025.2 640.0,1024.2 641.2,1017.9C642.4,1011.6 643.8,1001.0 645.0,990.5C646.2,980.0 647.2,965.9 648.2,954.7C649.2,943.5 650.2,933.0 651.3,923.2C652.3,913.4 653.5,902.3 654.5,895.8C655.5,889.3 656.3,886.7 657.2,884.2C658.1,881.7 658.9,880.2 659.7,880.6C660.6,881.0 661.4,881.7 662.3,886.3C663.2,890.9 664.0,898.8 665.0,908.4C666.0,918.0 667.2,932.6 668.2,944.2C669.2,955.8 670.2,966.7 671.3,977.9C672.3,989.1 673.5,1001.4 674.5,1011.6C675.5,1021.8 676.1,1031.4 677.0,1038.9C677.9,1046.4 678.7,1055.0 679.7,1056.8C680.7,1058.6 682.0,1050.6 682.9,1049.9C683.8,1049.2 684.5,1050.9 685.4,1052.6C686.3,1054.3 687.2,1060.7 688.2,1060.0C689.2,1059.3 690.1,1052.8 691.3,1048.4C692.5,1044.0 694.1,1036.9 695.5,1033.7C696.9,1030.5 698.3,1029.4 699.7,1029.1C701.1,1028.8 702.0,1029.4 703.9,1031.6C705.8,1033.8 709.2,1039.2 711.3,1042.1C713.4,1045.0 715.0,1049.3 716.6,1048.8C718.2,1048.3 719.4,1043.4 720.8,1038.9C722.2,1034.5 723.6,1026.8 725.0,1022.1C726.4,1017.4 727.8,1013.1 729.2,1010.5C730.6,1007.9 732.0,1007.2 733.4,1006.7C734.8,1006.2 735.9,1006.1 737.6,1007.8C739.4,1009.5 741.6,1013.6 743.9,1016.8C746.2,1020.0 748.8,1024.3 751.3,1026.9C753.8,1029.5 756.1,1030.8 758.7,1032.6C761.3,1034.4 764.3,1035.6 767.1,1037.9C769.9,1040.2 772.9,1043.7 775.5,1046.3C778.1,1048.9 780.4,1051.8 782.9,1053.7C785.4,1055.6 787.7,1057.1 790.3,1057.9C792.9,1058.7 794.9,1058.5 798.7,1058.5C802.6,1058.5 809.5,1058.4 813.4,1057.9C817.2,1057.5 819.3,1056.3 821.8,1055.8C824.3,1055.3 826.1,1054.5 828.2,1054.7C830.3,1054.9 832.6,1055.7 834.5,1056.8C836.4,1057.9 837.8,1061.4 839.7,1061.1C841.6,1060.8 844.0,1056.5 846.1,1054.7C848.2,1052.9 850.5,1051.4 852.4,1050.5C854.3,1049.6 855.7,1049.1 857.6,1049.1C859.5,1049.1 861.6,1049.4 863.9,1050.5C866.2,1051.6 869.2,1054.3 871.3,1055.8C873.4,1057.3 874.3,1059.0 876.6,1059.4C878.9,1059.8 880.8,1058.4 885.0,1058.3C889.2,1058.2 896.2,1059.0 901.8,1058.9C907.4,1058.8 913.8,1057.8 918.7,1057.9C923.6,1058.0 927.1,1059.3 931.3,1059.4C935.5,1059.5 937.6,1058.5 943.9,1058.3C950.2,1058.1 965.0,1058.5 969.2,1058.5" stroke="#e88a82"/>
</g>
<g fill="none" stroke="#e8782a" stroke-width="3.4" stroke-dasharray="3.4 3.7">
<path d="M636.5,92.2V160"/><path d="M674.5,58.2V126.2"/>
</g>
<path d="M660.2,870V922.5" fill="none" stroke="#f0788a" stroke-width="3" stroke-dasharray="3 3.6"/>
<g fill="none" stroke="#000" stroke-width="2.2">
<path d="M573.9,1132.6 V32.7 H970.9 V1132.6" />
<path d="M572.8,1111.4 H972.0"/>
<path d="M653.3,1090.4V1132.6M732.7,1090.4V1132.6M812.1,1090.4V1132.6M891.5,1090.4V1132.6M613.6,1101.3V1121.7M693.0,1101.3V1121.7M772.4,1101.3V1121.7M851.8,1101.3V1121.7M931.2,1101.3V1121.7"/>
</g>
<text x="572.4" y="1170.8" font-size="28.5" text-anchor="middle">0</text>
<text x="651.8" y="1170.8" font-size="28.5" text-anchor="middle">2</text>
<text x="731.2" y="1170.8" font-size="28.5" text-anchor="middle">4</text>
<text x="810.6" y="1170.8" font-size="28.5" text-anchor="middle">6</text>
<text x="890.0" y="1170.8" font-size="28.5" text-anchor="middle">8</text>
<text x="969.4" y="1170.8" font-size="28.5" text-anchor="middle">10</text>
<text x="773.6" y="1240.6" font-size="37.7" text-anchor="middle">Radical distance (Å)</text>
<text transform="translate(538.5,547) rotate(-90)" font-size="40.1" text-anchor="middle">Intensity (arb. units)</text>
<text x="519.0" y="32.4" font-size="38.5" text-anchor="start" font-weight="bold">b</text>
<text x="582.4" y="88.2" font-size="28.5" text-anchor="start">Co-O</text>
<text x="683.4" y="88.2" font-size="28.5">Co-Co(CoO<tspan font-size="19" dy="6.8">x</tspan><tspan dy="-6.8">)</tspan></text>
<text x="877.8" y="173.7" font-size="28.5" text-anchor="start">CoO</text>
<text x="830.4" y="296.4" font-size="28.6">Co@SiO<tspan font-size="17.7" dy="7">2</tspan></text>
<text x="875.4" y="427.4" font-size="28.5" text-anchor="start">0.4%</text>
<text x="875.4" y="570.1" font-size="28.5" text-anchor="start">0.5%</text>
<text x="875.4" y="703.8" font-size="28.5" text-anchor="start">1.4%</text>
<text x="875.4" y="851.1" font-size="28.5" text-anchor="start">3.4%</text>
<text x="687.3" y="932.2" font-size="28.2" text-anchor="start">Co-Co(metallic)</text>
<text x="867.9" y="1032.6" font-size="28.5" text-anchor="start">Co foil</text>
</g>
<g id="panel-c">
<text x="1019.0" y="32.3" font-size="38.5" text-anchor="start" font-weight="bold">c</text>
<path d="M1057.7,29H1098.7V1071.8H1116.2L1076.1,1189.3L1036,1071.8H1057.7Z" fill="url(#ga)"/>
<text x="1013.3" y="208.1" font-size="28.5" text-anchor="start">0.4%</text>
<path d="M1017.6,221.9H1075.1" stroke="#000" stroke-width="2.4" fill="none"/>
<text x="1013.3" y="503.9" font-size="28.5" text-anchor="start">0.5%</text>
<path d="M1017.6,517.4H1075.1" stroke="#000" stroke-width="2.4" fill="none"/>
<text x="1013.3" y="800.0" font-size="28.5" text-anchor="start">1.4%</text>
<path d="M1017.6,812.8H1075.1" stroke="#000" stroke-width="2.4" fill="none"/>
<text x="1013.3" y="1049.8" font-size="28.5" text-anchor="start">3.4%</text>
<path d="M1017.6,1063.4H1075.1" stroke="#000" stroke-width="2.4" fill="none"/>
<g fill="url(#gs)"><circle cx="1233.5" cy="69.1" r="7.4" fill="url(#gd)"/><circle cx="1202.0" cy="79.6" r="7.4" fill="url(#gd)"/><circle cx="1223.0" cy="79.6" r="7.4" fill="url(#gd)"/><circle cx="1244.0" cy="79.6" r="7.4" fill="url(#gd)"/><circle cx="1265.0" cy="79.6" r="7.4" fill="url(#gd)"/><circle cx="1191.5" cy="90.1" r="7.4" fill="url(#gd)"/><circle cx="1212.5" cy="90.1" r="7.4" fill="url(#gd)"/><circle cx="1233.5" cy="90.1" r="7.4" fill="url(#gd)"/><circle cx="1254.5" cy="90.1" r="7.4" fill="url(#gd)"/><circle cx="1275.5" cy="90.1" r="7.4" fill="url(#gd)"/><circle cx="1181.0" cy="100.6" r="7.4" fill="url(#gd)"/><circle cx="1202.0" cy="100.6" r="7.4" fill="url(#gd)"/><circle cx="1223.0" cy="100.6" r="7.4" fill="url(#gd)"/><circle cx="1244.0" cy="100.6" r="7.4" fill="url(#gd)"/><circle cx="1265.0" cy="100.6" r="7.4" fill="url(#gd)"/><circle cx="1286.0" cy="100.6" r="7.4" fill="url(#gd)"/><circle cx="1170.5" cy="111.1" r="7.4" fill="url(#gd)"/><circle cx="1191.5" cy="111.1" r="7.4" fill="url(#gd)"/><circle cx="1212.5" cy="111.1" r="7.4" fill="url(#gd)"/><circle cx="1233.5" cy="111.1" r="7.4" fill="url(#gd)"/><circle cx="1254.5" cy="111.1" r="7.4" fill="url(#gd)"/><circle cx="1275.5" cy="111.1" r="7.4" fill="url(#gd)"/><circle cx="1296.5" cy="111.1" r="7.4" fill="url(#gd)"/><circle cx="1181.0" cy="121.6" r="7.4" fill="url(#gd)"/><circle cx="1202.0" cy="121.6" r="7.4" fill="url(#gd)"/><circle cx="1223.0" cy="121.6" r="7.4" fill="url(#gd)"/><circle cx="1244.0" cy="121.6" r="7.4" fill="url(#gd)"/><circle cx="1265.0" cy="121.6" r="7.4" fill="url(#gd)"/><circle cx="1286.0" cy="121.6" r="7.4" fill="url(#gd)"/><circle cx="1170.5" cy="132.1" r="7.4" fill="url(#gd)"/><circle cx="1191.5" cy="132.1" r="7.4" fill="url(#gd)"/><circle cx="1212.5" cy="132.1" r="7.4" fill="url(#gd)"/><circle cx="1233.5" cy="132.1" r="7.4" fill="url(#gd)"/><circle cx="1254.5" cy="132.1" r="7.4" fill="url(#gd)"/><circle cx="1275.5" cy="132.1" r="7.4" fill="url(#gd)"/><circle cx="1296.5" cy="132.1" r="7.4" fill="url(#gd)"/><circle cx="1160.0" cy="142.6" r="7.4" fill="url(#gd)"/><circle cx="1181.0" cy="142.6" r="7.4" fill="url(#gd)"/><circle cx="1202.0" cy="142.6" r="7.4" fill="url(#gd)"/><circle cx="1223.0" cy="142.6" r="7.4" fill="url(#gd)"/><circle cx="1244.0" cy="142.6" r="7.4" fill="url(#gd)"/><circle cx="1265.0" cy="142.6" r="7.4" fill="url(#gd)"/><circle cx="1286.0" cy="142.6" r="7.4" fill="url(#gd)"/><circle cx="1307.0" cy="142.6" r="7.4" fill="url(#gd)"/><circle cx="1170.5" cy="153.1" r="7.4" fill="url(#gd)"/><circle cx="1191.5" cy="153.1" r="7.4" fill="url(#gd)"/><circle cx="1212.5" cy="153.1" r="7.4" fill="url(#gd)"/><circle cx="1233.5" cy="153.1" r="7.4" fill="url(#gd)"/><circle cx="1254.5" cy="153.1" r="7.4" fill="url(#gd)"/><circle cx="1275.5" cy="153.1" r="7.4" fill="url(#gd)"/><circle cx="1296.5" cy="153.1" r="7.4" fill="url(#gd)"/><circle cx="1181.0" cy="163.6" r="7.4" fill="url(#gd)"/><circle cx="1202.0" cy="163.6" r="7.4" fill="url(#gd)"/><circle cx="1223.0" cy="163.6" r="7.4" fill="url(#gd)"/><circle cx="1244.0" cy="163.6" r="7.4" fill="url(#gd)"/><circle cx="1265.0" cy="163.6" r="7.4" fill="url(#gd)"/><circle cx="1286.0" cy="163.6" r="7.4" fill="url(#gd)"/><circle cx="1170.5" cy="174.1" r="7.4" fill="url(#gd)"/><circle cx="1191.5" cy="174.1" r="7.4" fill="url(#gd)"/><circle cx="1212.5" cy="174.1" r="7.4" fill="url(#gd)"/><circle cx="1233.5" cy="174.1" r="7.4" fill="url(#gd)"/><circle cx="1254.5" cy="174.1" r="7.4" fill="url(#gd)"/><circle cx="1275.5" cy="174.1" r="7.4" fill="url(#gd)"/><circle cx="1296.5" cy="174.1" r="7.4" fill="url(#gd)"/><circle cx="1181.0" cy="184.6" r="7.4" fill="url(#gd)"/><circle cx="1202.0" cy="184.6" r="7.4" fill="url(#gd)"/><circle cx="1223.0" cy="184.6" r="7.4" fill="url(#gd)"/><circle cx="1244.0" cy="184.6" r="7.4" fill="url(#gd)"/><circle cx="1265.0" cy="184.6" r="7.4" fill="url(#gd)"/><circle cx="1286.0" cy="184.6" r="7.4" fill="url(#gd)"/><circle cx="1191.5" cy="195.1" r="7.4" fill="url(#gd)"/><circle cx="1212.5" cy="195.1" r="7.4" fill="url(#gd)"/><circle cx="1233.5" cy="195.1" r="7.4" fill="url(#gd)"/><circle cx="1254.5" cy="195.1" r="7.4" fill="url(#gd)"/><circle cx="1275.5" cy="195.1" r="7.4" fill="url(#gd)"/><circle cx="1202.0" cy="205.6" r="7.4" fill="url(#gd)"/><circle cx="1223.0" cy="205.6" r="7.4" fill="url(#gd)"/><circle cx="1244.0" cy="205.6" r="7.4" fill="url(#gd)"/><circle cx="1265.0" cy="205.6" r="7.4" fill="url(#gd)"/><circle cx="1233.5" cy="216.1" r="7.4" fill="url(#gd)"/><circle cx="1265.0" cy="90.1" r="7.4" fill="url(#gd)"/><circle cx="1181.0" cy="132.1" r="7.4" fill="url(#gd)"/><circle cx="1244.0" cy="174.1" r="7.4" fill="url(#gd)"/><circle cx="1265.0" cy="69.1" r="9.2"/><circle cx="1307.0" cy="111.1" r="9.2"/><circle cx="1160.0" cy="174.1" r="9.2"/><circle cx="1202.0" cy="216.1" r="9.2"/><circle cx="1233.5" cy="58.6" r="9.2"/><circle cx="1149.5" cy="142.6" r="9.2"/><circle cx="1317.5" cy="142.6" r="9.2"/><circle cx="1233.5" cy="226.6" r="9.2"/><circle cx="1202.0" cy="69.1" r="9.2"/><circle cx="1244.0" cy="69.1" r="9.2"/><circle cx="1181.0" cy="90.1" r="9.2"/><circle cx="1160.0" cy="111.1" r="9.2"/><circle cx="1307.0" cy="132.1" r="9.2"/><circle cx="1160.0" cy="153.1" r="9.2"/><circle cx="1307.0" cy="174.1" r="9.2"/><circle cx="1286.0" cy="195.1" r="9.2"/><circle cx="1223.0" cy="216.1" r="9.2"/><circle cx="1265.0" cy="216.1" r="9.2"/><circle cx="1191.5" cy="79.6" r="9.2"/><circle cx="1233.5" cy="79.6" r="9.2"/><circle cx="1275.5" cy="79.6" r="9.2"/><circle cx="1170.5" cy="100.6" r="9.2"/><circle cx="1296.5" cy="100.6" r="9.2"/><circle cx="1170.5" cy="142.6" r="9.2"/><circle cx="1296.5" cy="142.6" r="9.2"/><circle cx="1170.5" cy="184.6" r="9.2"/><circle cx="1296.5" cy="184.6" r="9.2"/><circle cx="1191.5" cy="205.6" r="9.2"/><circle cx="1233.5" cy="205.6" r="9.2"/><circle cx="1275.5" cy="205.6" r="9.2"/><circle cx="1223.0" cy="69.1" r="9.2"/><circle cx="1202.0" cy="90.1" r="9.2"/><circle cx="1244.0" cy="90.1" r="9.2"/><circle cx="1286.0" cy="90.1" r="9.2"/><circle cx="1181.0" cy="111.1" r="9.2"/><circle cx="1265.0" cy="111.1" r="9.2"/><circle cx="1160.0" cy="132.1" r="9.2"/><circle cx="1286.0" cy="132.1" r="9.2"/><circle cx="1181.0" cy="153.1" r="9.2"/><circle cx="1307.0" cy="153.1" r="9.2"/><circle cx="1202.0" cy="174.1" r="9.2"/><circle cx="1286.0" cy="174.1" r="9.2"/><circle cx="1181.0" cy="195.1" r="9.2"/><circle cx="1223.0" cy="195.1" r="9.2"/><circle cx="1265.0" cy="195.1" r="9.2"/><circle cx="1244.0" cy="216.1" r="9.2"/><circle cx="1212.5" cy="79.6" r="9.2"/><circle cx="1254.5" cy="79.6" r="9.2"/><circle cx="1191.5" cy="100.6" r="9.2"/><circle cx="1233.5" cy="100.6" r="9.2"/><circle cx="1275.5" cy="100.6" r="9.2"/><circle cx="1170.5" cy="121.6" r="9.2"/><circle cx="1212.5" cy="121.6" r="9.2"/><circle cx="1254.5" cy="121.6" r="9.2"/><circle cx="1296.5" cy="121.6" r="9.2"/><circle cx="1191.5" cy="142.6" r="9.2"/><circle cx="1275.5" cy="142.6" r="9.2"/><circle cx="1170.5" cy="163.6" r="9.2"/><circle cx="1212.5" cy="163.6" r="9.2"/><circle cx="1254.5" cy="163.6" r="9.2"/><circle cx="1296.5" cy="163.6" r="9.2"/><circle cx="1191.5" cy="184.6" r="9.2"/><circle cx="1233.5" cy="184.6" r="9.2"/><circle cx="1275.5" cy="184.6" r="9.2"/><circle cx="1212.5" cy="205.6" r="9.2"/><circle cx="1254.5" cy="205.6" r="9.2"/><circle cx="1223.0" cy="90.1" r="9.2"/><circle cx="1202.0" cy="111.1" r="9.2"/><circle cx="1244.0" cy="111.1" r="9.2"/><circle cx="1286.0" cy="111.1" r="9.2"/><circle cx="1223.0" cy="132.1" r="9.2"/><circle cx="1265.0" cy="132.1" r="9.2"/><circle cx="1202.0" cy="153.1" r="9.2"/><circle cx="1244.0" cy="153.1" r="9.2"/><circle cx="1286.0" cy="153.1" r="9.2"/><circle cx="1181.0" cy="174.1" r="9.2"/><circle cx="1223.0" cy="174.1" r="9.2"/><circle cx="1265.0" cy="174.1" r="9.2"/><circle cx="1202.0" cy="195.1" r="9.2"/><circle cx="1244.0" cy="195.1" r="9.2"/><circle cx="1212.5" cy="100.6" r="9.2"/><circle cx="1254.5" cy="100.6" r="9.2"/><circle cx="1191.5" cy="121.6" r="9.2"/><circle cx="1233.5" cy="121.6" r="9.2"/><circle cx="1275.5" cy="121.6" r="9.2"/><circle cx="1212.5" cy="142.6" r="9.2"/><circle cx="1254.5" cy="142.6" r="9.2"/><circle cx="1191.5" cy="163.6" r="9.2"/><circle cx="1233.5" cy="163.6" r="9.2"/><circle cx="1275.5" cy="163.6" r="9.2"/><circle cx="1212.5" cy="184.6" r="9.2"/><circle cx="1254.5" cy="184.6" r="9.2"/><circle cx="1263.9" cy="96.5" r="9.2" fill="url(#gr)"/><circle cx="1180.3" cy="137.8" r="9.2" fill="url(#gr)"/><circle cx="1223.0" cy="111.1" r="9.2"/><circle cx="1202.0" cy="132.1" r="9.2"/><circle cx="1244.0" cy="132.1" r="9.2"/><circle cx="1223.0" cy="153.1" r="9.2"/><circle cx="1265.0" cy="153.1" r="9.2"/><circle cx="1233.5" cy="142.6" r="9.2"/><circle cx="1242.0" cy="181.0" r="9.2" fill="url(#gr)"/></g>
<g fill="url(#gs)"><circle cx="1237.9" cy="337.7" r="7.4" fill="url(#gd)"/><circle cx="1206.4" cy="348.2" r="7.4" fill="url(#gd)"/><circle cx="1227.4" cy="348.2" r="7.4" fill="url(#gd)"/><circle cx="1248.4" cy="348.2" r="7.4" fill="url(#gd)"/><circle cx="1269.4" cy="348.2" r="7.4" fill="url(#gd)"/><circle cx="1195.9" cy="358.7" r="7.4" fill="url(#gd)"/><circle cx="1216.9" cy="358.7" r="7.4" fill="url(#gd)"/><circle cx="1237.9" cy="358.7" r="7.4" fill="url(#gd)"/><circle cx="1258.9" cy="358.7" r="7.4" fill="url(#gd)"/><circle cx="1279.9" cy="358.7" r="7.4" fill="url(#gd)"/><circle cx="1185.4" cy="369.2" r="7.4" fill="url(#gd)"/><circle cx="1206.4" cy="369.2" r="7.4" fill="url(#gd)"/><circle cx="1227.4" cy="369.2" r="7.4" fill="url(#gd)"/><circle cx="1248.4" cy="369.2" r="7.4" fill="url(#gd)"/><circle cx="1269.4" cy="369.2" r="7.4" fill="url(#gd)"/><circle cx="1290.4" cy="369.2" r="7.4" fill="url(#gd)"/><circle cx="1174.9" cy="379.7" r="7.4" fill="url(#gd)"/><circle cx="1195.9" cy="379.7" r="7.4" fill="url(#gd)"/><circle cx="1216.9" cy="379.7" r="7.4" fill="url(#gd)"/><circle cx="1237.9" cy="379.7" r="7.4" fill="url(#gd)"/><circle cx="1258.9" cy="379.7" r="7.4" fill="url(#gd)"/><circle cx="1279.9" cy="379.7" r="7.4" fill="url(#gd)"/><circle cx="1300.9" cy="379.7" r="7.4" fill="url(#gd)"/><circle cx="1185.4" cy="390.2" r="7.4" fill="url(#gd)"/><circle cx="1206.4" cy="390.2" r="7.4" fill="url(#gd)"/><circle cx="1227.4" cy="390.2" r="7.4" fill="url(#gd)"/><circle cx="1248.4" cy="390.2" r="7.4" fill="url(#gd)"/><circle cx="1269.4" cy="390.2" r="7.4" fill="url(#gd)"/><circle cx="1290.4" cy="390.2" r="7.4" fill="url(#gd)"/><circle cx="1174.9" cy="400.7" r="7.4" fill="url(#gd)"/><circle cx="1195.9" cy="400.7" r="7.4" fill="url(#gd)"/><circle cx="1216.9" cy="400.7" r="7.4" fill="url(#gd)"/><circle cx="1237.9" cy="400.7" r="7.4" fill="url(#gd)"/><circle cx="1258.9" cy="400.7" r="7.4" fill="url(#gd)"/><circle cx="1279.9" cy="400.7" r="7.4" fill="url(#gd)"/><circle cx="1300.9" cy="400.7" r="7.4" fill="url(#gd)"/><circle cx="1164.4" cy="411.2" r="7.4" fill="url(#gd)"/><circle cx="1185.4" cy="411.2" r="7.4" fill="url(#gd)"/><circle cx="1206.4" cy="411.2" r="7.4" fill="url(#gd)"/><circle cx="1227.4" cy="411.2" r="7.4" fill="url(#gd)"/><circle cx="1248.4" cy="411.2" r="7.4" fill="url(#gd)"/><circle cx="1269.4" cy="411.2" r="7.4" fill="url(#gd)"/><circle cx="1290.4" cy="411.2" r="7.4" fill="url(#gd)"/><circle cx="1311.4" cy="411.2" r="7.4" fill="url(#gd)"/><circle cx="1174.9" cy="421.7" r="7.4" fill="url(#gd)"/><circle cx="1195.9" cy="421.7" r="7.4" fill="url(#gd)"/><circle cx="1216.9" cy="421.7" r="7.4" fill="url(#gd)"/><circle cx="1237.9" cy="421.7" r="7.4" fill="url(#gd)"/><circle cx="1258.9" cy="421.7" r="7.4" fill="url(#gd)"/><circle cx="1279.9" cy="421.7" r="7.4" fill="url(#gd)"/><circle cx="1300.9" cy="421.7" r="7.4" fill="url(#gd)"/><circle cx="1185.4" cy="432.2" r="7.4" fill="url(#gd)"/><circle cx="1206.4" cy="432.2" r="7.4" fill="url(#gd)"/><circle cx="1227.4" cy="432.2" r="7.4" fill="url(#gd)"/><circle cx="1248.4" cy="432.2" r="7.4" fill="url(#gd)"/><circle cx="1269.4" cy="432.2" r="7.4" fill="url(#gd)"/><circle cx="1290.4" cy="432.2" r="7.4" fill="url(#gd)"/><circle cx="1174.9" cy="442.7" r="7.4" fill="url(#gd)"/><circle cx="1195.9" cy="442.7" r="7.4" fill="url(#gd)"/><circle cx="1216.9" cy="442.7" r="7.4" fill="url(#gd)"/><circle cx="1237.9" cy="442.7" r="7.4" fill="url(#gd)"/><circle cx="1258.9" cy="442.7" r="7.4" fill="url(#gd)"/><circle cx="1279.9" cy="442.7" r="7.4" fill="url(#gd)"/><circle cx="1300.9" cy="442.7" r="7.4" fill="url(#gd)"/><circle cx="1185.4" cy="453.2" r="7.4" fill="url(#gd)"/><circle cx="1206.4" cy="453.2" r="7.4" fill="url(#gd)"/><circle cx="1227.4" cy="453.2" r="7.4" fill="url(#gd)"/><circle cx="1248.4" cy="453.2" r="7.4" fill="url(#gd)"/><circle cx="1269.4" cy="453.2" r="7.4" fill="url(#gd)"/><circle cx="1290.4" cy="453.2" r="7.4" fill="url(#gd)"/><circle cx="1195.9" cy="463.7" r="7.4" fill="url(#gd)"/><circle cx="1216.9" cy="463.7" r="7.4" fill="url(#gd)"/><circle cx="1237.9" cy="463.7" r="7.4" fill="url(#gd)"/><circle cx="1258.9" cy="463.7" r="7.4" fill="url(#gd)"/><circle cx="1279.9" cy="463.7" r="7.4" fill="url(#gd)"/><circle cx="1206.4" cy="474.2" r="7.4" fill="url(#gd)"/><circle cx="1227.4" cy="474.2" r="7.4" fill="url(#gd)"/><circle cx="1248.4" cy="474.2" r="7.4" fill="url(#gd)"/><circle cx="1269.4" cy="474.2" r="7.4" fill="url(#gd)"/><circle cx="1237.9" cy="484.7" r="7.4" fill="url(#gd)"/><circle cx="1269.4" cy="337.7" r="7.4" fill="url(#gd)"/><circle cx="1279.9" cy="369.2" r="7.4" fill="url(#gd)"/><circle cx="1185.4" cy="379.7" r="7.4" fill="url(#gd)"/><circle cx="1269.4" cy="400.7" r="7.4" fill="url(#gd)"/><circle cx="1311.4" cy="421.7" r="7.4" fill="url(#gd)"/><circle cx="1185.4" cy="442.7" r="7.4" fill="url(#gd)"/><circle cx="1269.4" cy="442.7" r="7.4" fill="url(#gd)"/><circle cx="1227.4" cy="463.7" r="7.4" fill="url(#gd)"/><circle cx="1311.4" cy="379.7" r="9.2"/><circle cx="1164.4" cy="442.7" r="9.2"/><circle cx="1206.4" cy="484.7" r="9.2"/><circle cx="1237.9" cy="327.2" r="9.2"/><circle cx="1153.9" cy="411.2" r="9.2"/><circle cx="1321.9" cy="411.2" r="9.2"/><circle cx="1237.9" cy="495.2" r="9.2"/><circle cx="1269.2" cy="336.1" r="9.2" fill="url(#gr)"/><circle cx="1206.4" cy="337.7" r="9.2"/><circle cx="1248.4" cy="337.7" r="9.2"/><circle cx="1185.4" cy="358.7" r="9.2"/><circle cx="1164.4" cy="379.7" r="9.2"/><circle cx="1311.4" cy="400.7" r="9.2"/><circle cx="1164.4" cy="421.7" r="9.2"/><circle cx="1311.4" cy="442.7" r="9.2"/><circle cx="1290.4" cy="463.7" r="9.2"/><circle cx="1227.4" cy="484.7" r="9.2"/><circle cx="1269.4" cy="484.7" r="9.2"/><circle cx="1195.9" cy="348.2" r="9.2"/><circle cx="1237.9" cy="348.2" r="9.2"/><circle cx="1279.9" cy="348.2" r="9.2"/><circle cx="1174.9" cy="369.2" r="9.2"/><circle cx="1300.9" cy="369.2" r="9.2"/><circle cx="1174.9" cy="411.2" r="9.2"/><circle cx="1300.9" cy="411.2" r="9.2"/><circle cx="1174.9" cy="453.2" r="9.2"/><circle cx="1300.9" cy="453.2" r="9.2"/><circle cx="1195.9" cy="474.2" r="9.2"/><circle cx="1237.9" cy="474.2" r="9.2"/><circle cx="1279.9" cy="474.2" r="9.2"/><circle cx="1227.4" cy="337.7" r="9.2"/><circle cx="1206.4" cy="358.7" r="9.2"/><circle cx="1248.4" cy="358.7" r="9.2"/><circle cx="1290.4" cy="358.7" r="9.2"/><circle cx="1269.4" cy="379.7" r="9.2"/><circle cx="1164.4" cy="400.7" r="9.2"/><circle cx="1290.4" cy="400.7" r="9.2"/><circle cx="1185.4" cy="421.7" r="9.2"/><circle cx="1206.4" cy="442.7" r="9.2"/><circle cx="1290.4" cy="442.7" r="9.2"/><circle cx="1185.4" cy="463.7" r="9.2"/><circle cx="1269.4" cy="463.7" r="9.2"/><circle cx="1248.4" cy="484.7" r="9.2"/><circle cx="1182.0" cy="443.6" r="9.2" fill="url(#gr)"/><circle cx="1267.4" cy="444.4" r="9.2" fill="url(#gr)"/><circle cx="1216.9" cy="348.2" r="9.2"/><circle cx="1258.9" cy="348.2" r="9.2"/><circle cx="1195.9" cy="369.2" r="9.2"/><circle cx="1237.9" cy="369.2" r="9.2"/><circle cx="1174.9" cy="390.2" r="9.2"/><circle cx="1216.9" cy="390.2" r="9.2"/><circle cx="1258.9" cy="390.2" r="9.2"/><circle cx="1300.9" cy="390.2" r="9.2"/><circle cx="1195.9" cy="411.2" r="9.2"/><circle cx="1279.9" cy="411.2" r="9.2"/><circle cx="1174.9" cy="432.2" r="9.2"/><circle cx="1216.9" cy="432.2" r="9.2"/><circle cx="1258.9" cy="432.2" r="9.2"/><circle cx="1300.9" cy="432.2" r="9.2"/><circle cx="1195.9" cy="453.2" r="9.2"/><circle cx="1237.9" cy="453.2" r="9.2"/><circle cx="1279.9" cy="453.2" r="9.2"/><circle cx="1216.9" cy="474.2" r="9.2"/><circle cx="1258.9" cy="474.2" r="9.2"/><circle cx="1182.8" cy="380.1" r="9.2" fill="url(#gr)"/><circle cx="1310.6" cy="421.5" r="9.2" fill="url(#gr)"/><circle cx="1225.1" cy="464.3" r="9.2" fill="url(#gr)"/><circle cx="1227.4" cy="358.7" r="9.2"/><circle cx="1269.4" cy="358.7" r="9.2"/><circle cx="1206.4" cy="379.7" r="9.2"/><circle cx="1248.4" cy="379.7" r="9.2"/><circle cx="1290.4" cy="379.7" r="9.2"/><circle cx="1185.4" cy="400.7" r="9.2"/><circle cx="1227.4" cy="400.7" r="9.2"/><circle cx="1206.4" cy="421.7" r="9.2"/><circle cx="1248.4" cy="421.7" r="9.2"/><circle cx="1290.4" cy="421.7" r="9.2"/><circle cx="1227.4" cy="442.7" r="9.2"/><circle cx="1206.4" cy="463.7" r="9.2"/><circle cx="1248.4" cy="463.7" r="9.2"/><circle cx="1278.8" cy="369.6" r="9.2" fill="url(#gr)"/><circle cx="1216.9" cy="369.2" r="9.2"/><circle cx="1258.9" cy="369.2" r="9.2"/><circle cx="1195.9" cy="390.2" r="9.2"/><circle cx="1237.9" cy="390.2" r="9.2"/><circle cx="1279.9" cy="390.2" r="9.2"/><circle cx="1216.9" cy="411.2" r="9.2"/><circle cx="1258.9" cy="411.2" r="9.2"/><circle cx="1195.9" cy="432.2" r="9.2"/><circle cx="1237.9" cy="432.2" r="9.2"/><circle cx="1279.9" cy="432.2" r="9.2"/><circle cx="1216.9" cy="453.2" r="9.2"/><circle cx="1258.9" cy="453.2" r="9.2"/><circle cx="1266.0" cy="401.8" r="9.2" fill="url(#gr)"/><circle cx="1227.4" cy="379.7" r="9.2"/><circle cx="1206.4" cy="400.7" r="9.2"/><circle cx="1248.4" cy="400.7" r="9.2"/><circle cx="1227.4" cy="421.7" r="9.2"/><circle cx="1269.4" cy="421.7" r="9.2"/><circle cx="1248.4" cy="442.7" r="9.2"/><circle cx="1237.9" cy="411.2" r="9.2"/></g>
<g fill="url(#gs)"><circle cx="1236.1" cy="618.3" r="7.4" fill="url(#gd)"/><circle cx="1204.6" cy="628.8" r="7.4" fill="url(#gd)"/><circle cx="1225.6" cy="628.8" r="7.4" fill="url(#gd)"/><circle cx="1246.6" cy="628.8" r="7.4" fill="url(#gd)"/><circle cx="1267.6" cy="628.8" r="7.4" fill="url(#gd)"/><circle cx="1194.1" cy="639.3" r="7.4" fill="url(#gd)"/><circle cx="1215.1" cy="639.3" r="7.4" fill="url(#gd)"/><circle cx="1236.1" cy="639.3" r="7.4" fill="url(#gd)"/><circle cx="1257.1" cy="639.3" r="7.4" fill="url(#gd)"/><circle cx="1278.1" cy="639.3" r="7.4" fill="url(#gd)"/><circle cx="1183.6" cy="649.8" r="7.4" fill="url(#gd)"/><circle cx="1204.6" cy="649.8" r="7.4" fill="url(#gd)"/><circle cx="1225.6" cy="649.8" r="7.4" fill="url(#gd)"/><circle cx="1246.6" cy="649.8" r="7.4" fill="url(#gd)"/><circle cx="1267.6" cy="649.8" r="7.4" fill="url(#gd)"/><circle cx="1288.6" cy="649.8" r="7.4" fill="url(#gd)"/><circle cx="1173.1" cy="660.3" r="7.4" fill="url(#gd)"/><circle cx="1194.1" cy="660.3" r="7.4" fill="url(#gd)"/><circle cx="1215.1" cy="660.3" r="7.4" fill="url(#gd)"/><circle cx="1236.1" cy="660.3" r="7.4" fill="url(#gd)"/><circle cx="1257.1" cy="660.3" r="7.4" fill="url(#gd)"/><circle cx="1278.1" cy="660.3" r="7.4" fill="url(#gd)"/><circle cx="1299.1" cy="660.3" r="7.4" fill="url(#gd)"/><circle cx="1183.6" cy="670.8" r="7.4" fill="url(#gd)"/><circle cx="1204.6" cy="670.8" r="7.4" fill="url(#gd)"/><circle cx="1225.6" cy="670.8" r="7.4" fill="url(#gd)"/><circle cx="1246.6" cy="670.8" r="7.4" fill="url(#gd)"/><circle cx="1267.6" cy="670.8" r="7.4" fill="url(#gd)"/><circle cx="1288.6" cy="670.8" r="7.4" fill="url(#gd)"/><circle cx="1173.1" cy="681.3" r="7.4" fill="url(#gd)"/><circle cx="1194.1" cy="681.3" r="7.4" fill="url(#gd)"/><circle cx="1215.1" cy="681.3" r="7.4" fill="url(#gd)"/><circle cx="1236.1" cy="681.3" r="7.4" fill="url(#gd)"/><circle cx="1257.1" cy="681.3" r="7.4" fill="url(#gd)"/><circle cx="1278.1" cy="681.3" r="7.4" fill="url(#gd)"/><circle cx="1299.1" cy="681.3" r="7.4" fill="url(#gd)"/><circle cx="1162.6" cy="691.8" r="7.4" fill="url(#gd)"/><circle cx="1183.6" cy="691.8" r="7.4" fill="url(#gd)"/><circle cx="1204.6" cy="691.8" r="7.4" fill="url(#gd)"/><circle cx="1225.6" cy="691.8" r="7.4" fill="url(#gd)"/><circle cx="1246.6" cy="691.8" r="7.4" fill="url(#gd)"/><circle cx="1267.6" cy="691.8" r="7.4" fill="url(#gd)"/><circle cx="1288.6" cy="691.8" r="7.4" fill="url(#gd)"/><circle cx="1309.6" cy="691.8" r="7.4" fill="url(#gd)"/><circle cx="1173.1" cy="702.3" r="7.4" fill="url(#gd)"/><circle cx="1194.1" cy="702.3" r="7.4" fill="url(#gd)"/><circle cx="1215.1" cy="702.3" r="7.4" fill="url(#gd)"/><circle cx="1236.1" cy="702.3" r="7.4" fill="url(#gd)"/><circle cx="1257.1" cy="702.3" r="7.4" fill="url(#gd)"/><circle cx="1278.1" cy="702.3" r="7.4" fill="url(#gd)"/><circle cx="1299.1" cy="702.3" r="7.4" fill="url(#gd)"/><circle cx="1183.6" cy="712.8" r="7.4" fill="url(#gd)"/><circle cx="1204.6" cy="712.8" r="7.4" fill="url(#gd)"/><circle cx="1225.6" cy="712.8" r="7.4" fill="url(#gd)"/><circle cx="1246.6" cy="712.8" r="7.4" fill="url(#gd)"/><circle cx="1267.6" cy="712.8" r="7.4" fill="url(#gd)"/><circle cx="1288.6" cy="712.8" r="7.4" fill="url(#gd)"/><circle cx="1173.1" cy="723.3" r="7.4" fill="url(#gd)"/><circle cx="1194.1" cy="723.3" r="7.4" fill="url(#gd)"/><circle cx="1215.1" cy="723.3" r="7.4" fill="url(#gd)"/><circle cx="1236.1" cy="723.3" r="7.4" fill="url(#gd)"/><circle cx="1257.1" cy="723.3" r="7.4" fill="url(#gd)"/><circle cx="1278.1" cy="723.3" r="7.4" fill="url(#gd)"/><circle cx="1299.1" cy="723.3" r="7.4" fill="url(#gd)"/><circle cx="1183.6" cy="733.8" r="7.4" fill="url(#gd)"/><circle cx="1204.6" cy="733.8" r="7.4" fill="url(#gd)"/><circle cx="1225.6" cy="733.8" r="7.4" fill="url(#gd)"/><circle cx="1246.6" cy="733.8" r="7.4" fill="url(#gd)"/><circle cx="1267.6" cy="733.8" r="7.4" fill="url(#gd)"/><circle cx="1288.6" cy="733.8" r="7.4" fill="url(#gd)"/><circle cx="1194.1" cy="744.3" r="7.4" fill="url(#gd)"/><circle cx="1215.1" cy="744.3" r="7.4" fill="url(#gd)"/><circle cx="1236.1" cy="744.3" r="7.4" fill="url(#gd)"/><circle cx="1257.1" cy="744.3" r="7.4" fill="url(#gd)"/><circle cx="1278.1" cy="744.3" r="7.4" fill="url(#gd)"/><circle cx="1204.6" cy="754.8" r="7.4" fill="url(#gd)"/><circle cx="1225.6" cy="754.8" r="7.4" fill="url(#gd)"/><circle cx="1246.6" cy="754.8" r="7.4" fill="url(#gd)"/><circle cx="1267.6" cy="754.8" r="7.4" fill="url(#gd)"/><circle cx="1236.1" cy="765.3" r="7.4" fill="url(#gd)"/><circle cx="1246.6" cy="618.3" r="7.4" fill="url(#gd)"/><circle cx="1267.6" cy="618.3" r="7.4" fill="url(#gd)"/><circle cx="1183.6" cy="639.3" r="7.4" fill="url(#gd)"/><circle cx="1278.1" cy="649.8" r="7.4" fill="url(#gd)"/><circle cx="1183.6" cy="660.3" r="7.4" fill="url(#gd)"/><circle cx="1267.6" cy="681.3" r="7.4" fill="url(#gd)"/><circle cx="1309.6" cy="702.3" r="7.4" fill="url(#gd)"/><circle cx="1204.6" cy="702.3" r="7.4" fill="url(#gd)"/><circle cx="1236.1" cy="712.8" r="7.4" fill="url(#gd)"/><circle cx="1267.6" cy="723.3" r="7.4" fill="url(#gd)"/><circle cx="1225.6" cy="744.3" r="7.4" fill="url(#gd)"/><circle cx="1288.6" cy="744.3" r="7.4" fill="url(#gd)"/><circle cx="1194.1" cy="754.8" r="7.4" fill="url(#gd)"/><circle cx="1236.1" cy="775.8" r="7.4" fill="url(#gd)"/><circle cx="1309.6" cy="660.3" r="9.2"/><circle cx="1162.6" cy="723.3" r="9.2"/><circle cx="1204.6" cy="765.3" r="9.2"/><circle cx="1236.1" cy="607.8" r="9.2"/><circle cx="1152.1" cy="691.8" r="9.2"/><circle cx="1320.1" cy="691.8" r="9.2"/><circle cx="1268.3" cy="614.3" r="9.2" fill="url(#gr)"/><circle cx="1204.6" cy="618.3" r="9.2"/><circle cx="1162.6" cy="660.3" r="9.2"/><circle cx="1309.6" cy="681.3" r="9.2"/><circle cx="1162.6" cy="702.3" r="9.2"/><circle cx="1309.6" cy="723.3" r="9.2"/><circle cx="1225.6" cy="765.3" r="9.2"/><circle cx="1267.6" cy="765.3" r="9.2"/><circle cx="1236.6" cy="779.1" r="9.2" fill="url(#gr)"/><circle cx="1194.1" cy="628.8" r="9.2"/><circle cx="1236.1" cy="628.8" r="9.2"/><circle cx="1278.1" cy="628.8" r="9.2"/><circle cx="1173.1" cy="649.8" r="9.2"/><circle cx="1299.1" cy="649.8" r="9.2"/><circle cx="1173.1" cy="691.8" r="9.2"/><circle cx="1299.1" cy="691.8" r="9.2"/><circle cx="1173.1" cy="733.8" r="9.2"/><circle cx="1299.1" cy="733.8" r="9.2"/><circle cx="1236.1" cy="754.8" r="9.2"/><circle cx="1278.1" cy="754.8" r="9.2"/><circle cx="1247.1" cy="615.2" r="9.2" fill="url(#gr)"/><circle cx="1182.0" cy="636.7" r="9.2" fill="url(#gr)"/><circle cx="1291.7" cy="743.8" r="9.2" fill="url(#gr)"/><circle cx="1225.6" cy="618.3" r="9.2"/><circle cx="1204.6" cy="639.3" r="9.2"/><circle cx="1246.6" cy="639.3" r="9.2"/><circle cx="1288.6" cy="639.3" r="9.2"/><circle cx="1267.6" cy="660.3" r="9.2"/><circle cx="1162.6" cy="681.3" r="9.2"/><circle cx="1288.6" cy="681.3" r="9.2"/><circle cx="1183.6" cy="702.3" r="9.2"/><circle cx="1204.6" cy="723.3" r="9.2"/><circle cx="1288.6" cy="723.3" r="9.2"/><circle cx="1183.6" cy="744.3" r="9.2"/><circle cx="1267.6" cy="744.3" r="9.2"/><circle cx="1246.6" cy="765.3" r="9.2"/><circle cx="1193.4" cy="755.8" r="9.2" fill="url(#gr)"/><circle cx="1215.1" cy="628.8" r="9.2"/><circle cx="1257.1" cy="628.8" r="9.2"/><circle cx="1194.1" cy="649.8" r="9.2"/><circle cx="1236.1" cy="649.8" r="9.2"/><circle cx="1173.1" cy="670.8" r="9.2"/><circle cx="1215.1" cy="670.8" r="9.2"/><circle cx="1257.1" cy="670.8" r="9.2"/><circle cx="1299.1" cy="670.8" r="9.2"/><circle cx="1194.1" cy="691.8" r="9.2"/><circle cx="1278.1" cy="691.8" r="9.2"/><circle cx="1173.1" cy="712.8" r="9.2"/><circle cx="1215.1" cy="712.8" r="9.2"/><circle cx="1257.1" cy="712.8" r="9.2"/><circle cx="1299.1" cy="712.8" r="9.2"/><circle cx="1194.1" cy="733.8" r="9.2"/><circle cx="1236.1" cy="733.8" r="9.2"/><circle cx="1278.1" cy="733.8" r="9.2"/><circle cx="1215.1" cy="754.8" r="9.2"/><circle cx="1257.1" cy="754.8" r="9.2"/><circle cx="1182.5" cy="657.5" r="9.2" fill="url(#gr)"/><circle cx="1311.4" cy="701.5" r="9.2" fill="url(#gr)"/><circle cx="1226.5" cy="743.8" r="9.2" fill="url(#gr)"/><circle cx="1225.6" cy="639.3" r="9.2"/><circle cx="1267.6" cy="639.3" r="9.2"/><circle cx="1204.6" cy="660.3" r="9.2"/><circle cx="1246.6" cy="660.3" r="9.2"/><circle cx="1288.6" cy="660.3" r="9.2"/><circle cx="1183.6" cy="681.3" r="9.2"/><circle cx="1225.6" cy="681.3" r="9.2"/><circle cx="1246.6" cy="702.3" r="9.2"/><circle cx="1288.6" cy="702.3" r="9.2"/><circle cx="1183.6" cy="723.3" r="9.2"/><circle cx="1225.6" cy="723.3" r="9.2"/><circle cx="1204.6" cy="744.3" r="9.2"/><circle cx="1246.6" cy="744.3" r="9.2"/><circle cx="1279.7" cy="646.6" r="9.2" fill="url(#gr)"/><circle cx="1215.1" cy="649.8" r="9.2"/><circle cx="1257.1" cy="649.8" r="9.2"/><circle cx="1194.1" cy="670.8" r="9.2"/><circle cx="1236.1" cy="670.8" r="9.2"/><circle cx="1278.1" cy="670.8" r="9.2"/><circle cx="1215.1" cy="691.8" r="9.2"/><circle cx="1257.1" cy="691.8" r="9.2"/><circle cx="1194.1" cy="712.8" r="9.2"/><circle cx="1278.1" cy="712.8" r="9.2"/><circle cx="1215.1" cy="733.8" r="9.2"/><circle cx="1257.1" cy="733.8" r="9.2"/><circle cx="1269.2" cy="677.8" r="9.2" fill="url(#gr)"/><circle cx="1204.3" cy="700.1" r="9.2" fill="url(#gr)"/><circle cx="1269.2" cy="722.3" r="9.2" fill="url(#gr)"/><circle cx="1225.6" cy="660.3" r="9.2"/><circle cx="1204.6" cy="681.3" r="9.2"/><circle cx="1246.6" cy="681.3" r="9.2"/><circle cx="1225.6" cy="702.3" r="9.2"/><circle cx="1267.6" cy="702.3" r="9.2"/><circle cx="1246.6" cy="723.3" r="9.2"/><circle cx="1237.1" cy="711.2" r="9.2" fill="url(#gr)"/><circle cx="1236.1" cy="691.8" r="9.2"/></g>
<g fill="url(#gs)"><circle cx="1237.3" cy="907.3" r="7.4" fill="url(#gd)"/><circle cx="1205.8" cy="917.8" r="7.4" fill="url(#gd)"/><circle cx="1226.8" cy="917.8" r="7.4" fill="url(#gd)"/><circle cx="1247.8" cy="917.8" r="7.4" fill="url(#gd)"/><circle cx="1268.8" cy="917.8" r="7.4" fill="url(#gd)"/><circle cx="1195.3" cy="928.3" r="7.4" fill="url(#gd)"/><circle cx="1216.3" cy="928.3" r="7.4" fill="url(#gd)"/><circle cx="1237.3" cy="928.3" r="7.4" fill="url(#gd)"/><circle cx="1258.3" cy="928.3" r="7.4" fill="url(#gd)"/><circle cx="1279.3" cy="928.3" r="7.4" fill="url(#gd)"/><circle cx="1184.8" cy="938.8" r="7.4" fill="url(#gd)"/><circle cx="1205.8" cy="938.8" r="7.4" fill="url(#gd)"/><circle cx="1226.8" cy="938.8" r="7.4" fill="url(#gd)"/><circle cx="1247.8" cy="938.8" r="7.4" fill="url(#gd)"/><circle cx="1268.8" cy="938.8" r="7.4" fill="url(#gd)"/><circle cx="1289.8" cy="938.8" r="7.4" fill="url(#gd)"/><circle cx="1174.3" cy="949.3" r="7.4" fill="url(#gd)"/><circle cx="1195.3" cy="949.3" r="7.4" fill="url(#gd)"/><circle cx="1216.3" cy="949.3" r="7.4" fill="url(#gd)"/><circle cx="1237.3" cy="949.3" r="7.4" fill="url(#gd)"/><circle cx="1258.3" cy="949.3" r="7.4" fill="url(#gd)"/><circle cx="1279.3" cy="949.3" r="7.4" fill="url(#gd)"/><circle cx="1300.3" cy="949.3" r="7.4" fill="url(#gd)"/><circle cx="1184.8" cy="959.8" r="7.4" fill="url(#gd)"/><circle cx="1205.8" cy="959.8" r="7.4" fill="url(#gd)"/><circle cx="1226.8" cy="959.8" r="7.4" fill="url(#gd)"/><circle cx="1247.8" cy="959.8" r="7.4" fill="url(#gd)"/><circle cx="1268.8" cy="959.8" r="7.4" fill="url(#gd)"/><circle cx="1289.8" cy="959.8" r="7.4" fill="url(#gd)"/><circle cx="1174.3" cy="970.3" r="7.4" fill="url(#gd)"/><circle cx="1195.3" cy="970.3" r="7.4" fill="url(#gd)"/><circle cx="1216.3" cy="970.3" r="7.4" fill="url(#gd)"/><circle cx="1237.3" cy="970.3" r="7.4" fill="url(#gd)"/><circle cx="1258.3" cy="970.3" r="7.4" fill="url(#gd)"/><circle cx="1279.3" cy="970.3" r="7.4" fill="url(#gd)"/><circle cx="1300.3" cy="970.3" r="7.4" fill="url(#gd)"/><circle cx="1163.8" cy="980.8" r="7.4" fill="url(#gd)"/><circle cx="1184.8" cy="980.8" r="7.4" fill="url(#gd)"/><circle cx="1205.8" cy="980.8" r="7.4" fill="url(#gd)"/><circle cx="1226.8" cy="980.8" r="7.4" fill="url(#gd)"/><circle cx="1247.8" cy="980.8" r="7.4" fill="url(#gd)"/><circle cx="1268.8" cy="980.8" r="7.4" fill="url(#gd)"/><circle cx="1289.8" cy="980.8" r="7.4" fill="url(#gd)"/><circle cx="1310.8" cy="980.8" r="7.4" fill="url(#gd)"/><circle cx="1174.3" cy="991.3" r="7.4" fill="url(#gd)"/><circle cx="1195.3" cy="991.3" r="7.4" fill="url(#gd)"/><circle cx="1216.3" cy="991.3" r="7.4" fill="url(#gd)"/><circle cx="1237.3" cy="991.3" r="7.4" fill="url(#gd)"/><circle cx="1258.3" cy="991.3" r="7.4" fill="url(#gd)"/><circle cx="1279.3" cy="991.3" r="7.4" fill="url(#gd)"/><circle cx="1300.3" cy="991.3" r="7.4" fill="url(#gd)"/><circle cx="1184.8" cy="1001.8" r="7.4" fill="url(#gd)"/><circle cx="1205.8" cy="1001.8" r="7.4" fill="url(#gd)"/><circle cx="1226.8" cy="1001.8" r="7.4" fill="url(#gd)"/><circle cx="1247.8" cy="1001.8" r="7.4" fill="url(#gd)"/><circle cx="1268.8" cy="1001.8" r="7.4" fill="url(#gd)"/><circle cx="1289.8" cy="1001.8" r="7.4" fill="url(#gd)"/><circle cx="1174.3" cy="1012.3" r="7.4" fill="url(#gd)"/><circle cx="1195.3" cy="1012.3" r="7.4" fill="url(#gd)"/><circle cx="1216.3" cy="1012.3" r="7.4" fill="url(#gd)"/><circle cx="1237.3" cy="1012.3" r="7.4" fill="url(#gd)"/><circle cx="1258.3" cy="1012.3" r="7.4" fill="url(#gd)"/><circle cx="1279.3" cy="1012.3" r="7.4" fill="url(#gd)"/><circle cx="1300.3" cy="1012.3" r="7.4" fill="url(#gd)"/><circle cx="1184.8" cy="1022.8" r="7.4" fill="url(#gd)"/><circle cx="1205.8" cy="1022.8" r="7.4" fill="url(#gd)"/><circle cx="1226.8" cy="1022.8" r="7.4" fill="url(#gd)"/><circle cx="1247.8" cy="1022.8" r="7.4" fill="url(#gd)"/><circle cx="1268.8" cy="1022.8" r="7.4" fill="url(#gd)"/><circle cx="1289.8" cy="1022.8" r="7.4" fill="url(#gd)"/><circle cx="1195.3" cy="1033.3" r="7.4" fill="url(#gd)"/><circle cx="1216.3" cy="1033.3" r="7.4" fill="url(#gd)"/><circle cx="1237.3" cy="1033.3" r="7.4" fill="url(#gd)"/><circle cx="1258.3" cy="1033.3" r="7.4" fill="url(#gd)"/><circle cx="1279.3" cy="1033.3" r="7.4" fill="url(#gd)"/><circle cx="1205.8" cy="1043.8" r="7.4" fill="url(#gd)"/><circle cx="1226.8" cy="1043.8" r="7.4" fill="url(#gd)"/><circle cx="1247.8" cy="1043.8" r="7.4" fill="url(#gd)"/><circle cx="1268.8" cy="1043.8" r="7.4" fill="url(#gd)"/><circle cx="1237.3" cy="1054.3" r="7.4" fill="url(#gd)"/><circle cx="1247.8" cy="907.3" r="7.4" fill="url(#gd)"/><circle cx="1268.8" cy="907.3" r="7.4" fill="url(#gd)"/><circle cx="1184.8" cy="928.3" r="7.4" fill="url(#gd)"/><circle cx="1237.3" cy="938.8" r="7.4" fill="url(#gd)"/><circle cx="1279.3" cy="938.8" r="7.4" fill="url(#gd)"/><circle cx="1184.8" cy="949.3" r="7.4" fill="url(#gd)"/><circle cx="1205.8" cy="949.3" r="7.4" fill="url(#gd)"/><circle cx="1310.8" cy="949.3" r="7.4" fill="url(#gd)"/><circle cx="1195.3" cy="959.8" r="7.4" fill="url(#gd)"/><circle cx="1300.3" cy="959.8" r="7.4" fill="url(#gd)"/><circle cx="1268.8" cy="970.3" r="7.4" fill="url(#gd)"/><circle cx="1310.8" cy="970.3" r="7.4" fill="url(#gd)"/><circle cx="1237.3" cy="980.8" r="7.4" fill="url(#gd)"/><circle cx="1279.3" cy="980.8" r="7.4" fill="url(#gd)"/><circle cx="1300.3" cy="980.8" r="7.4" fill="url(#gd)"/><circle cx="1268.8" cy="991.3" r="7.4" fill="url(#gd)"/><circle cx="1289.8" cy="991.3" r="7.4" fill="url(#gd)"/><circle cx="1310.8" cy="991.3" r="7.4" fill="url(#gd)"/><circle cx="1205.8" cy="991.3" r="7.4" fill="url(#gd)"/><circle cx="1174.3" cy="1001.8" r="7.4" fill="url(#gd)"/><circle cx="1237.3" cy="1001.8" r="7.4" fill="url(#gd)"/><circle cx="1268.8" cy="1012.3" r="7.4" fill="url(#gd)"/><circle cx="1237.3" cy="1022.8" r="7.4" fill="url(#gd)"/><circle cx="1258.3" cy="1022.8" r="7.4" fill="url(#gd)"/><circle cx="1226.8" cy="1033.3" r="7.4" fill="url(#gd)"/><circle cx="1289.8" cy="1033.3" r="7.4" fill="url(#gd)"/><circle cx="1195.3" cy="1043.8" r="7.4" fill="url(#gd)"/><circle cx="1226.8" cy="1054.3" r="7.4" fill="url(#gd)"/><circle cx="1237.3" cy="1064.8" r="7.4" fill="url(#gd)"/><circle cx="1163.8" cy="1012.3" r="9.2"/><circle cx="1205.8" cy="1054.3" r="9.2"/><circle cx="1317.3" cy="968.1" r="9.2" fill="url(#gr)"/><circle cx="1237.3" cy="896.8" r="9.2"/><circle cx="1153.3" cy="980.8" r="9.2"/><circle cx="1321.3" cy="980.8" r="9.2"/><circle cx="1270.0" cy="906.4" r="9.2" fill="url(#gr)"/><circle cx="1313.0" cy="950.1" r="9.2" fill="url(#gr)"/><circle cx="1205.8" cy="907.3" r="9.2"/><circle cx="1163.8" cy="949.3" r="9.2"/><circle cx="1163.8" cy="991.3" r="9.2"/><circle cx="1310.8" cy="1012.3" r="9.2"/><circle cx="1268.8" cy="1054.3" r="9.2"/><circle cx="1235.7" cy="1066.6" r="9.2" fill="url(#gr)"/><circle cx="1195.3" cy="917.8" r="9.2"/><circle cx="1237.3" cy="917.8" r="9.2"/><circle cx="1279.3" cy="917.8" r="9.2"/><circle cx="1174.3" cy="938.8" r="9.2"/><circle cx="1300.3" cy="938.8" r="9.2"/><circle cx="1174.3" cy="980.8" r="9.2"/><circle cx="1174.3" cy="1022.8" r="9.2"/><circle cx="1300.3" cy="1022.8" r="9.2"/><circle cx="1237.3" cy="1043.8" r="9.2"/><circle cx="1279.3" cy="1043.8" r="9.2"/><circle cx="1249.4" cy="908.0" r="9.2" fill="url(#gr)"/><circle cx="1184.8" cy="927.3" r="9.2" fill="url(#gr)"/><circle cx="1289.7" cy="1035.3" r="9.2" fill="url(#gr)"/><circle cx="1225.3" cy="1056.9" r="9.2" fill="url(#gr)"/><circle cx="1226.8" cy="907.3" r="9.2"/><circle cx="1205.8" cy="928.3" r="9.2"/><circle cx="1247.8" cy="928.3" r="9.2"/><circle cx="1289.8" cy="928.3" r="9.2"/><circle cx="1268.8" cy="949.3" r="9.2"/><circle cx="1163.8" cy="970.3" r="9.2"/><circle cx="1289.8" cy="970.3" r="9.2"/><circle cx="1184.8" cy="991.3" r="9.2"/><circle cx="1205.8" cy="1012.3" r="9.2"/><circle cx="1289.8" cy="1012.3" r="9.2"/><circle cx="1184.8" cy="1033.3" r="9.2"/><circle cx="1268.8" cy="1033.3" r="9.2"/><circle cx="1247.8" cy="1054.3" r="9.2"/><circle cx="1301.0" cy="982.5" r="9.2" fill="url(#gr)"/><circle cx="1192.9" cy="1043.7" r="9.2" fill="url(#gr)"/><circle cx="1204.4" cy="950.1" r="9.2" fill="url(#gr)"/><circle cx="1216.3" cy="917.8" r="9.2"/><circle cx="1258.3" cy="917.8" r="9.2"/><circle cx="1195.3" cy="938.8" r="9.2"/><circle cx="1174.3" cy="959.8" r="9.2"/><circle cx="1216.3" cy="959.8" r="9.2"/><circle cx="1258.3" cy="959.8" r="9.2"/><circle cx="1195.3" cy="980.8" r="9.2"/><circle cx="1216.3" cy="1001.8" r="9.2"/><circle cx="1258.3" cy="1001.8" r="9.2"/><circle cx="1300.3" cy="1001.8" r="9.2"/><circle cx="1195.3" cy="1022.8" r="9.2"/><circle cx="1279.3" cy="1022.8" r="9.2"/><circle cx="1216.3" cy="1043.8" r="9.2"/><circle cx="1258.3" cy="1043.8" r="9.2"/><circle cx="1183.3" cy="950.1" r="9.2" fill="url(#gr)"/><circle cx="1311.8" cy="992.8" r="9.2" fill="url(#gr)"/><circle cx="1225.3" cy="1036.0" r="9.2" fill="url(#gr)"/><circle cx="1226.8" cy="928.3" r="9.2"/><circle cx="1268.8" cy="928.3" r="9.2"/><circle cx="1247.8" cy="949.3" r="9.2"/><circle cx="1289.8" cy="949.3" r="9.2"/><circle cx="1184.8" cy="970.3" r="9.2"/><circle cx="1226.8" cy="970.3" r="9.2"/><circle cx="1247.8" cy="991.3" r="9.2"/><circle cx="1184.8" cy="1012.3" r="9.2"/><circle cx="1226.8" cy="1012.3" r="9.2"/><circle cx="1205.8" cy="1033.3" r="9.2"/><circle cx="1247.8" cy="1033.3" r="9.2"/><circle cx="1236.9" cy="940.0" r="9.2" fill="url(#gr)"/><circle cx="1280.1" cy="940.0" r="9.2" fill="url(#gr)"/><circle cx="1301.0" cy="961.6" r="9.2" fill="url(#gr)"/><circle cx="1278.9" cy="983.7" r="9.2" fill="url(#gr)"/><circle cx="1171.3" cy="1003.4" r="9.2" fill="url(#gr)"/><circle cx="1235.7" cy="1025.7" r="9.2" fill="url(#gr)"/><circle cx="1216.3" cy="938.8" r="9.2"/><circle cx="1258.3" cy="938.8" r="9.2"/><circle cx="1237.3" cy="959.8" r="9.2"/><circle cx="1279.3" cy="959.8" r="9.2"/><circle cx="1216.3" cy="980.8" r="9.2"/><circle cx="1258.3" cy="980.8" r="9.2"/><circle cx="1195.3" cy="1001.8" r="9.2"/><circle cx="1279.3" cy="1001.8" r="9.2"/><circle cx="1216.3" cy="1022.8" r="9.2"/><circle cx="1268.1" cy="974.1" r="9.2" fill="url(#gr)"/><circle cx="1289.7" cy="993.3" r="9.2" fill="url(#gr)"/><circle cx="1203.2" cy="994.5" r="9.2" fill="url(#gr)"/><circle cx="1268.1" cy="1014.9" r="9.2" fill="url(#gr)"/><circle cx="1226.8" cy="949.3" r="9.2"/><circle cx="1205.8" cy="970.3" r="9.2"/><circle cx="1247.8" cy="970.3" r="9.2"/><circle cx="1226.8" cy="991.3" r="9.2"/><circle cx="1247.8" cy="1012.3" r="9.2"/><circle cx="1193.6" cy="960.9" r="9.2" fill="url(#gr)"/><circle cx="1235.7" cy="1005.3" r="9.2" fill="url(#gr)"/><circle cx="1257.3" cy="1025.7" r="9.2" fill="url(#gr)"/><circle cx="1268.1" cy="994.5" r="9.2" fill="url(#gr)"/><circle cx="1235.7" cy="984.4" r="9.2" fill="url(#gr)"/></g>
<text x="1206.6" y="45.5" font-size="28.2" text-anchor="start">atomic site</text>
<path d="M1287.9,60.9L1271.2,86.9" stroke="#000" stroke-width="2.2" fill="none"/>
<text x="1202.6" y="860.7" font-size="28.2" text-anchor="start">atomic site</text>
<path d="M1274.8,871.3L1270.5,892.9" stroke="#000" stroke-width="2.2" fill="none"/>
<text x="1179.3" y="1113.4" font-size="28.1" text-anchor="start">aggregation</text>
<path d="M1240.5,1076.2L1249.4,1096.6" stroke="#000" stroke-width="2.2" fill="none"/>
<circle cx="1176.4" cy="1158.8" r="15.7" fill="url(#gsL)"/>
<circle cx="1274.5" cy="1158.8" r="15.7" fill="url(#grL)"/>
<text x="1208.5" y="1168.3" font-size="28.0" text-anchor="start">Si</text>
<text x="1301.0" y="1168.3" font-size="28.0" text-anchor="start">Co</text>
</g>
<g id="panel-d">
<rect x="1502.8" y="355.0" width="31.0" height="161.0" fill="#f68996" stroke="#141414" stroke-width="1"/>
<rect x="1605.5" y="271.3" width="31.0" height="244.7" fill="#f68996" stroke="#141414" stroke-width="1"/>
<rect x="1708.2" y="445.2" width="31.0" height="70.8" fill="#7b80a5" stroke="#141414" stroke-width="1"/>
<rect x="1708.2" y="187.6" width="31.0" height="257.6" fill="#f68996" stroke="#141414" stroke-width="1"/>
<rect x="1810.9" y="483.8" width="31.0" height="32.2" fill="#7b80a5" stroke="#141414" stroke-width="1"/>
<rect x="1810.9" y="284.2" width="31.0" height="199.6" fill="#f68996" stroke="#141414" stroke-width="1"/>
<rect x="1810.9" y="194.0" width="31.0" height="90.2" fill="#c0c0c0" stroke="#141414" stroke-width="1"/>
<rect x="1913.6" y="309.9" width="31.0" height="206.1" fill="#7b80a5" stroke="#141414" stroke-width="1"/>
<rect x="1913.6" y="71.6" width="31.0" height="238.3" fill="#f68996" stroke="#141414" stroke-width="1"/>
<g fill="none" stroke="#000" stroke-width="2">
<path d="M1467.0,520.8V33.0H1980.5V520.8"/>
<path d="M1457.2,516.0H1981.5"/>
<path d="M1457.2,451.6H1476.2M1457.2,387.2H1476.2M1457.2,322.8H1476.2M1457.2,258.4H1476.2M1457.2,194.0H1476.2M1457.2,129.6H1476.2M1457.2,65.2H1476.2M1462.3,483.8H1471.8M1462.3,419.4H1471.8M1462.3,355.0H1471.8M1462.3,290.6H1471.8M1462.3,226.2H1471.8M1462.3,161.8H1471.8M1462.3,97.4H1471.8M1462.3,33.0H1471.8M1518.3,516.0V525M1621.0,516.0V525M1723.7,516.0V525M1826.4,516.0V525M1929.1,516.0V525M1569.7,516.0V520.8M1672.4,516.0V520.8M1775.1,516.0V520.8M1877.8,516.0V520.8"/>
</g>
<text x="1451.3" y="523.0" font-size="21.0" text-anchor="end">0</text>
<text x="1451.3" y="458.6" font-size="21.0" text-anchor="end">1</text>
<text x="1451.3" y="394.2" font-size="21.0" text-anchor="end">2</text>
<text x="1451.3" y="329.8" font-size="21.0" text-anchor="end">3</text>
<text x="1451.3" y="265.4" font-size="21.0" text-anchor="end">4</text>
<text x="1451.3" y="201.0" font-size="21.0" text-anchor="end">5</text>
<text x="1451.3" y="136.6" font-size="21.0" text-anchor="end">6</text>
<text x="1451.3" y="72.2" font-size="21.0" text-anchor="end">7</text>
<text x="1520.7" y="554.6" font-size="25.6" text-anchor="middle">0.4%</text>
<text x="1620.4" y="554.6" font-size="25.6" text-anchor="middle">0.5%</text>
<text x="1726.3" y="554.6" font-size="25.6" text-anchor="middle">1.4%</text>
<text x="1831.0" y="554.6" font-size="25.6" text-anchor="middle">3.4%</text>
<text x="1883.1" y="554.5" font-size="26.3">Co@SiO<tspan font-size="17.5" dy="6.3">2</tspan></text>
<text x="1714.0" y="597.2" font-size="34.6" text-anchor="middle">Co concentration (wt%)</text>
<text transform="translate(1428.1,272.7) rotate(-90)" font-size="31.7" text-anchor="middle">Overall coordination number</text>
<text x="1404.0" y="31.8" font-size="38.5" text-anchor="start" font-weight="bold">d</text>
<rect x="1500" y="49.0" width="28" height="14" fill="#c0c0c0" stroke="#141414" stroke-width="1"/>
<text x="1549.5" y="64.6" font-size="24.4" text-anchor="start">Co-Co</text>
<rect x="1500" y="80.0" width="28" height="14" fill="#f68996" stroke="#141414" stroke-width="1"/>
<text x="1549.5" y="95.6" font-size="24.4" text-anchor="start">Co-Si</text>
<rect x="1500" y="111.2" width="28" height="14" fill="#7b80a5" stroke="#141414" stroke-width="1"/>
<text x="1549.5" y="126.8" font-size="24.4" text-anchor="start">Co-O</text>
</g>
<g id="panel-e">
<rect x="1500.2" y="801.5" width="20.4" height="308.7" fill="#f68996" stroke="#141414" stroke-width="1"/>
<rect x="1602.9" y="798.8" width="20.4" height="311.4" fill="#f68996" stroke="#141414" stroke-width="1"/>
<rect x="1679.9" y="858.0" width="20.4" height="252.2" fill="#7b80a5" stroke="#141414" stroke-width="1"/>
<rect x="1705.6" y="791.9" width="20.4" height="318.3" fill="#f68996" stroke="#141414" stroke-width="1"/>
<rect x="1782.6" y="859.4" width="20.4" height="250.8" fill="#7b80a5" stroke="#141414" stroke-width="1"/>
<rect x="1808.3" y="791.9" width="20.4" height="318.3" fill="#f68996" stroke="#141414" stroke-width="1"/>
<rect x="1834.0" y="783.6" width="20.4" height="326.6" fill="#c0c0c0" stroke="#141414" stroke-width="1"/>
<rect x="1885.3" y="848.4" width="20.4" height="261.8" fill="#7b80a5" stroke="#141414" stroke-width="1"/>
<rect x="1911.0" y="707.8" width="20.4" height="402.4" fill="#f68996" stroke="#141414" stroke-width="1"/>
<g fill="none" stroke="#000" stroke-width="1.8">
<path d="M1459.0,1119.7V627.2H1972.5V1119.7"/>
<path d="M1449.8,1110.2H1973.2"/>
<path d="M1450,972.4H1468M1450,834.6H1468M1450,696.8H1468M1454.5,1041.3H1463.6M1454.5,903.5H1463.6M1454.5,765.7H1463.6M1454.5,627.9H1463.6M1510.4,1110.2V1119.7M1613.1,1110.2V1119.7M1715.8,1110.2V1119.7M1818.5,1110.2V1119.7M1921.2,1110.2V1119.7M1561.7,1110.2V1119.7M1664.4,1110.2V1119.7M1767.1,1110.2V1119.7M1869.8,1110.2V1119.7"/>
</g>
<text x="1443.3" y="1118.4" font-size="28.5" text-anchor="end">0</text>
<text x="1443.3" y="980.6" font-size="28.5" text-anchor="end">1</text>
<text x="1443.3" y="842.8" font-size="28.5" text-anchor="end">2</text>
<text x="1443.3" y="705.0" font-size="28.5" text-anchor="end">3</text>
<text x="1505.3" y="1140.0" font-size="25.0" text-anchor="middle">0.4%</text>
<text x="1609.6" y="1140.0" font-size="25.0" text-anchor="middle">0.5%</text>
<text x="1715.5" y="1138.5" font-size="25.0" text-anchor="middle">1.4%</text>
<text x="1815.6" y="1138.3" font-size="25.2" text-anchor="middle">3.4%</text>
<text x="1874.8" y="1138.3" font-size="26.3">Co@SiO<tspan font-size="15.7" dy="7.3">2</tspan></text>
<text x="1487.5" y="1107.2" font-size="25.0" text-anchor="middle">*</text>
<text x="1535.8" y="1107.2" font-size="25.0" text-anchor="middle">*</text>
<text x="1590.0" y="1107.2" font-size="25.0" text-anchor="middle">*</text>
<text x="1638.5" y="1107.2" font-size="25.0" text-anchor="middle">*</text>
<text x="1737.4" y="1107.2" font-size="25.0" text-anchor="middle">*</text>
<text x="1943.4" y="1107.2" font-size="25.0" text-anchor="middle">*</text>
<text x="1712.5" y="1188.9" font-size="34.6" text-anchor="middle">Co concentration (wt%)</text>
<text transform="translate(1415.2,848.8) rotate(-90)" font-size="29.5" text-anchor="middle">Atomic distance (Å)</text>
<text x="1394.2" y="617.2" font-size="38.5" text-anchor="start" font-weight="bold">e</text>
<rect x="1486.5" y="645.5" width="28.4" height="13.5" fill="#7b80a5" stroke="#141414" stroke-width="1"/>
<text x="1529.0" y="660.2" font-size="24.2" text-anchor="start">Co-O</text>
<rect x="1486.5" y="676.4" width="28.4" height="13.5" fill="#f68996" stroke="#141414" stroke-width="1"/>
<text x="1529.0" y="691.1" font-size="24.2" text-anchor="start">Co-Si</text>
<rect x="1486.5" y="707.3" width="28.4" height="13.5" fill="#c0c0c0" stroke="#141414" stroke-width="1"/>
<text x="1529.0" y="722.0" font-size="24.2" text-anchor="start">Co-Co</text>
</g>
</svg>
</body></html>
